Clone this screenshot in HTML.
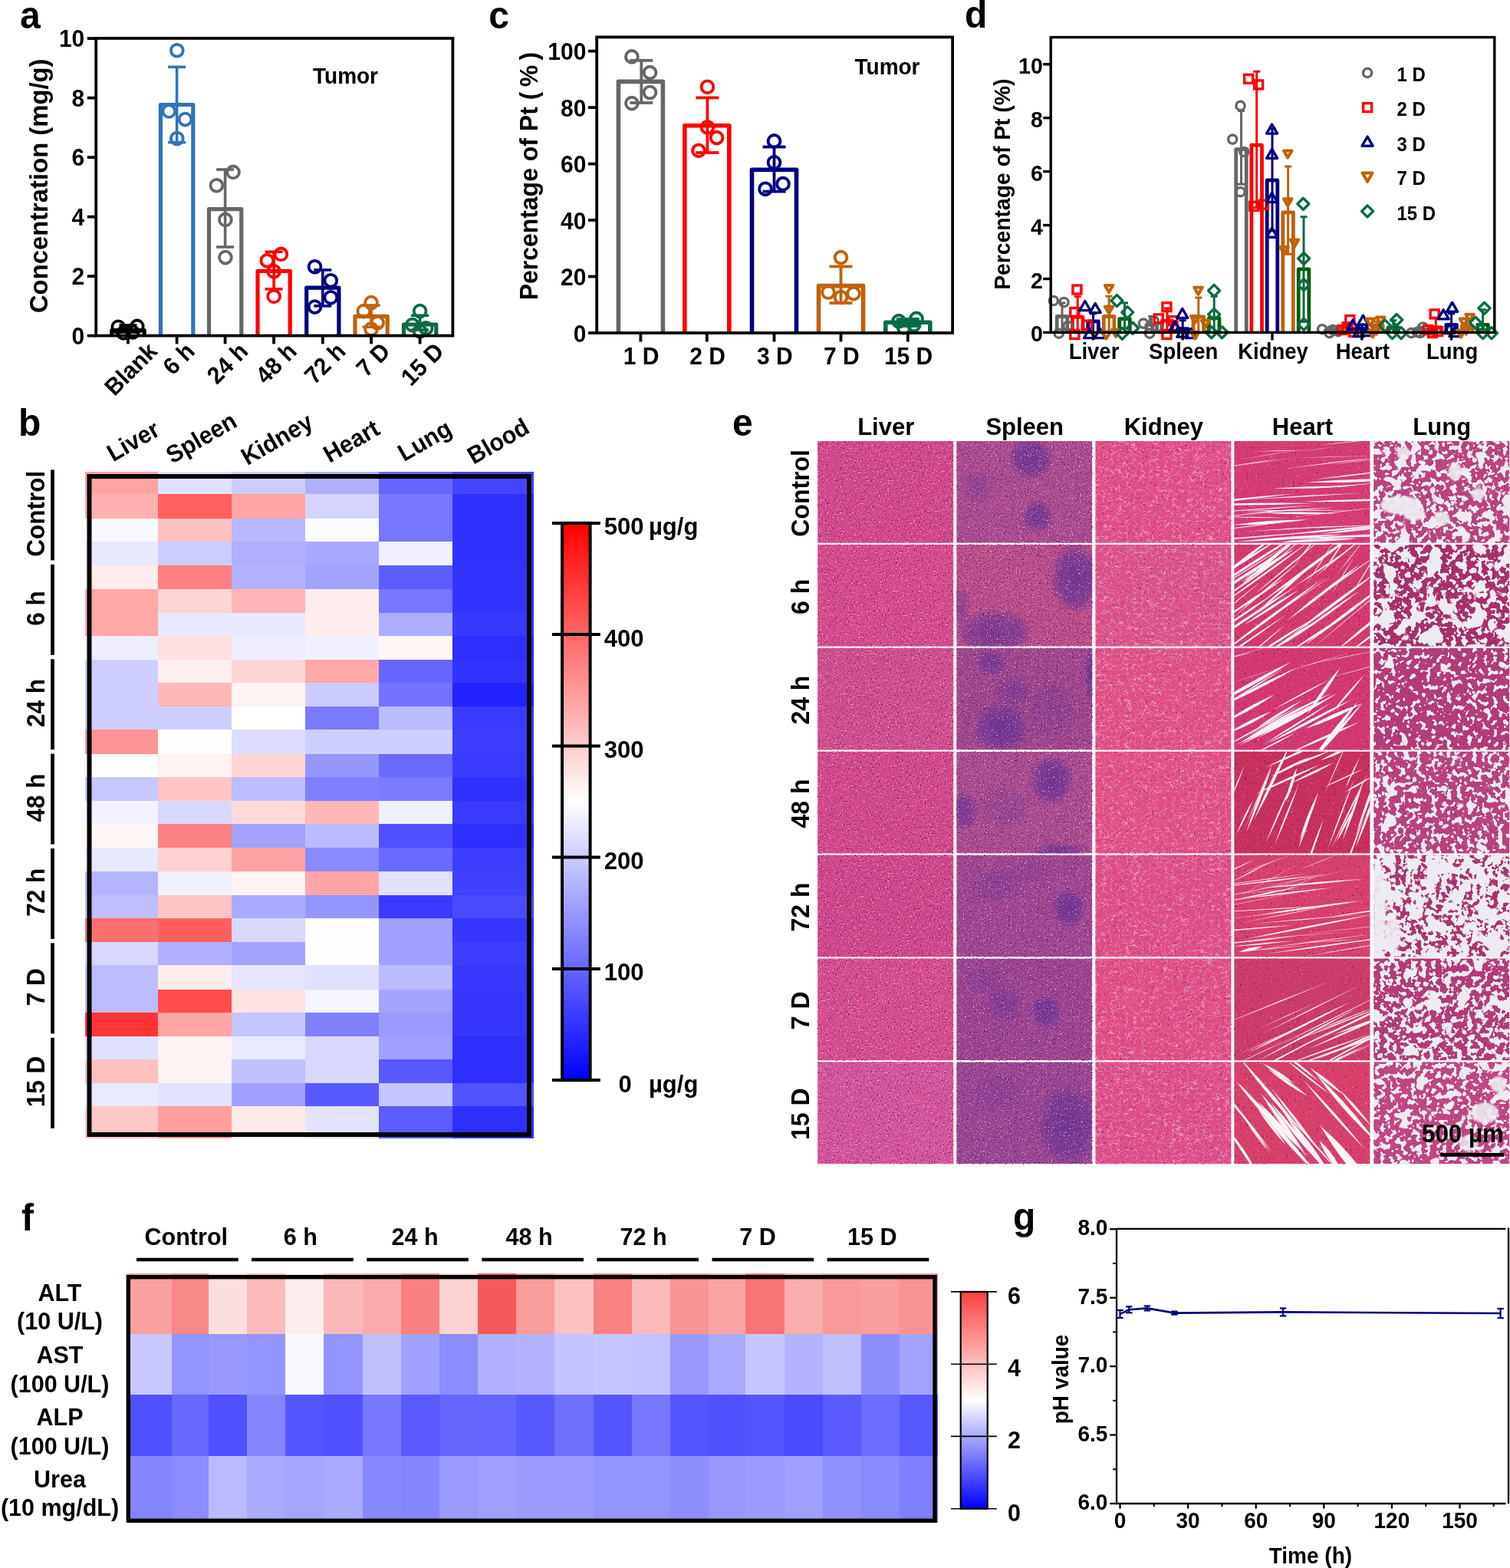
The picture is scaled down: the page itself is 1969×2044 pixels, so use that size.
<!DOCTYPE html>
<html><head><meta charset="utf-8"><title>Figure</title><style>html,body{margin:0;padding:0;background:#fff;}svg{display:block;}</style></head><body>
<svg width="1969" height="2044" viewBox="0 0 1969 2044" font-family="'Liberation Sans', Arial, Helvetica, sans-serif" font-weight="bold">
<rect width="1969" height="2044" fill="#fff"/>
<g>
<path d="M145.8,437.6 V430.6 H188.1 V437.6" fill="none" stroke="#000" stroke-width="5.2" stroke-linejoin="round"/>
<path d="M209.4,437.6 V136.5 H251.8 V437.6" fill="none" stroke="#3174B7" stroke-width="5.2" stroke-linejoin="round"/>
<path d="M272.5,437.6 V272.6 H314.8 V437.6" fill="none" stroke="#666666" stroke-width="5.2" stroke-linejoin="round"/>
<path d="M336,437.6 V353.4 H378.2 V437.6" fill="none" stroke="#FF0000" stroke-width="5.2" stroke-linejoin="round"/>
<path d="M399.7,437.6 V375.2 H441.9 V437.6" fill="none" stroke="#000080" stroke-width="5.2" stroke-linejoin="round"/>
<path d="M463,437.6 V412.4 H505.2 V437.6" fill="none" stroke="#C0620A" stroke-width="5.2" stroke-linejoin="round"/>
<path d="M526.5,437.6 V423 H568.8 V437.6" fill="none" stroke="#0A6B45" stroke-width="5.2" stroke-linejoin="round"/>
<line x1="166.9" y1="424" x2="166.9" y2="433" stroke="#000" stroke-width="3.6"/>
<line x1="155.4" y1="424" x2="178.4" y2="424" stroke="#000" stroke-width="3.6"/>
<line x1="155.4" y1="433" x2="178.4" y2="433" stroke="#000" stroke-width="3.6"/>
<line x1="230.6" y1="87.3" x2="230.6" y2="185.6" stroke="#3174B7" stroke-width="3.6"/>
<line x1="219.1" y1="87.3" x2="242.1" y2="87.3" stroke="#3174B7" stroke-width="3.6"/>
<line x1="219.1" y1="185.6" x2="242.1" y2="185.6" stroke="#3174B7" stroke-width="3.6"/>
<line x1="293.6" y1="221" x2="293.6" y2="322" stroke="#666666" stroke-width="3.6"/>
<line x1="282.1" y1="221" x2="305.1" y2="221" stroke="#666666" stroke-width="3.6"/>
<line x1="282.1" y1="322" x2="305.1" y2="322" stroke="#666666" stroke-width="3.6"/>
<line x1="357.1" y1="328.3" x2="357.1" y2="376.8" stroke="#FF0000" stroke-width="3.6"/>
<line x1="345.6" y1="328.3" x2="368.6" y2="328.3" stroke="#FF0000" stroke-width="3.6"/>
<line x1="345.6" y1="376.8" x2="368.6" y2="376.8" stroke="#FF0000" stroke-width="3.6"/>
<line x1="420.8" y1="351.9" x2="420.8" y2="398.8" stroke="#000080" stroke-width="3.6"/>
<line x1="409.3" y1="351.9" x2="432.3" y2="351.9" stroke="#000080" stroke-width="3.6"/>
<line x1="409.3" y1="398.8" x2="432.3" y2="398.8" stroke="#000080" stroke-width="3.6"/>
<line x1="484.1" y1="398" x2="484.1" y2="426.3" stroke="#C0620A" stroke-width="3.6"/>
<line x1="472.6" y1="398" x2="495.6" y2="398" stroke="#C0620A" stroke-width="3.6"/>
<line x1="472.6" y1="426.3" x2="495.6" y2="426.3" stroke="#C0620A" stroke-width="3.6"/>
<line x1="547.6" y1="411.2" x2="547.6" y2="430" stroke="#0A6B45" stroke-width="3.6"/>
<line x1="536.1" y1="411.2" x2="559.1" y2="411.2" stroke="#0A6B45" stroke-width="3.6"/>
<line x1="536.1" y1="430" x2="559.1" y2="430" stroke="#0A6B45" stroke-width="3.6"/>
<circle cx="154.2" cy="426.3" r="7.9" fill="none" stroke="#000" stroke-width="3.8"/>
<circle cx="178.8" cy="425.4" r="7.9" fill="none" stroke="#000" stroke-width="3.8"/>
<circle cx="161" cy="433.9" r="7.9" fill="none" stroke="#000" stroke-width="3.8"/>
<circle cx="172.9" cy="433" r="7.9" fill="none" stroke="#000" stroke-width="3.8"/>
<circle cx="230.8" cy="65.8" r="7.9" fill="none" stroke="#3174B7" stroke-width="3.8"/>
<circle cx="220.3" cy="144.9" r="7.9" fill="none" stroke="#3174B7" stroke-width="3.8"/>
<circle cx="241.5" cy="155.6" r="7.9" fill="none" stroke="#3174B7" stroke-width="3.8"/>
<circle cx="230.8" cy="180.5" r="7.9" fill="none" stroke="#3174B7" stroke-width="3.8"/>
<circle cx="304" cy="224.4" r="7.9" fill="none" stroke="#666666" stroke-width="3.8"/>
<circle cx="282.4" cy="241.7" r="7.9" fill="none" stroke="#666666" stroke-width="3.8"/>
<circle cx="293.9" cy="286.4" r="7.9" fill="none" stroke="#666666" stroke-width="3.8"/>
<circle cx="293.9" cy="335.6" r="7.9" fill="none" stroke="#666666" stroke-width="3.8"/>
<circle cx="348.3" cy="339.8" r="7.9" fill="none" stroke="#FF0000" stroke-width="3.8"/>
<circle cx="366.4" cy="331.4" r="7.9" fill="none" stroke="#FF0000" stroke-width="3.8"/>
<circle cx="357.1" cy="353.7" r="7.9" fill="none" stroke="#FF0000" stroke-width="3.8"/>
<circle cx="357.1" cy="386.4" r="7.9" fill="none" stroke="#FF0000" stroke-width="3.8"/>
<circle cx="410.5" cy="347.8" r="7.9" fill="none" stroke="#000080" stroke-width="3.8"/>
<circle cx="431.3" cy="365.7" r="7.9" fill="none" stroke="#000080" stroke-width="3.8"/>
<circle cx="431.3" cy="387.7" r="7.9" fill="none" stroke="#000080" stroke-width="3.8"/>
<circle cx="410.5" cy="400.1" r="7.9" fill="none" stroke="#000080" stroke-width="3.8"/>
<circle cx="484" cy="394.6" r="7.9" fill="none" stroke="#C0620A" stroke-width="3.8"/>
<circle cx="474.3" cy="405.6" r="7.9" fill="none" stroke="#C0620A" stroke-width="3.8"/>
<circle cx="492.2" cy="420.8" r="7.9" fill="none" stroke="#C0620A" stroke-width="3.8"/>
<circle cx="484" cy="429" r="7.9" fill="none" stroke="#C0620A" stroke-width="3.8"/>
<circle cx="547.6" cy="405.6" r="7.9" fill="none" stroke="#0A6B45" stroke-width="3.8"/>
<circle cx="537.7" cy="423.6" r="7.9" fill="none" stroke="#0A6B45" stroke-width="3.8"/>
<circle cx="555.6" cy="427.7" r="7.9" fill="none" stroke="#0A6B45" stroke-width="3.8"/>
<circle cx="547.6" cy="431.8" r="7.9" fill="none" stroke="#0A6B45" stroke-width="3.8"/>
<rect x="125.2" y="49.9" width="465.2" height="387.7" fill="none" stroke="#000" stroke-width="3.8"/>
<line x1="113.8" y1="437.6" x2="125.2" y2="437.6" stroke="#000" stroke-width="3.8"/>
<text x="110.3" y="448.9" font-size="31.20" text-anchor="end" textLength="16.68" lengthAdjust="spacingAndGlyphs">0</text>
<line x1="113.8" y1="360.1" x2="125.2" y2="360.1" stroke="#000" stroke-width="3.8"/>
<text x="110.3" y="371.4" font-size="31.20" text-anchor="end" textLength="16.68" lengthAdjust="spacingAndGlyphs">2</text>
<line x1="113.8" y1="282.6" x2="125.2" y2="282.6" stroke="#000" stroke-width="3.8"/>
<text x="110.3" y="293.9" font-size="31.20" text-anchor="end" textLength="16.68" lengthAdjust="spacingAndGlyphs">4</text>
<line x1="113.8" y1="205.1" x2="125.2" y2="205.1" stroke="#000" stroke-width="3.8"/>
<text x="110.3" y="216.4" font-size="31.20" text-anchor="end" textLength="16.68" lengthAdjust="spacingAndGlyphs">6</text>
<line x1="113.8" y1="127.6" x2="125.2" y2="127.6" stroke="#000" stroke-width="3.8"/>
<text x="110.3" y="138.9" font-size="31.20" text-anchor="end" textLength="16.68" lengthAdjust="spacingAndGlyphs">8</text>
<line x1="113.8" y1="50.1" x2="125.2" y2="50.1" stroke="#000" stroke-width="3.8"/>
<text x="110.3" y="61.4" font-size="31.20" text-anchor="end" textLength="33.37" lengthAdjust="spacingAndGlyphs">10</text>
<line x1="166.9" y1="437.6" x2="166.9" y2="448.4" stroke="#000" stroke-width="3.8"/>
<line x1="230.6" y1="437.6" x2="230.6" y2="448.4" stroke="#000" stroke-width="3.8"/>
<line x1="293.6" y1="437.6" x2="293.6" y2="448.4" stroke="#000" stroke-width="3.8"/>
<line x1="357.1" y1="437.6" x2="357.1" y2="448.4" stroke="#000" stroke-width="3.8"/>
<line x1="420.8" y1="437.6" x2="420.8" y2="448.4" stroke="#000" stroke-width="3.8"/>
<line x1="484.1" y1="437.6" x2="484.1" y2="448.4" stroke="#000" stroke-width="3.8"/>
<line x1="547.6" y1="437.6" x2="547.6" y2="448.4" stroke="#000" stroke-width="3.8"/>
<text x="206.9" y="459.8" font-size="31.20" text-anchor="end" transform="rotate(-45 206.9 459.8)" textLength="81.69" lengthAdjust="spacingAndGlyphs">Blank</text>
<text x="255.8" y="459.8" font-size="31.20" text-anchor="end" transform="rotate(-45 255.8 459.8)" textLength="43.34" lengthAdjust="spacingAndGlyphs">6 h</text>
<text x="325.3" y="459.8" font-size="31.20" text-anchor="end" transform="rotate(-45 325.3 459.8)" textLength="60.03" lengthAdjust="spacingAndGlyphs">24 h</text>
<text x="388.8" y="459.8" font-size="31.20" text-anchor="end" transform="rotate(-45 388.8 459.8)" textLength="60.03" lengthAdjust="spacingAndGlyphs">48 h</text>
<text x="452.5" y="459.8" font-size="31.20" text-anchor="end" transform="rotate(-45 452.5 459.8)" textLength="60.03" lengthAdjust="spacingAndGlyphs">72 h</text>
<text x="510.6" y="459.8" font-size="31.20" text-anchor="end" transform="rotate(-45 510.6 459.8)" textLength="46.68" lengthAdjust="spacingAndGlyphs">7 D</text>
<text x="580.6" y="459.8" font-size="31.20" text-anchor="end" transform="rotate(-45 580.6 459.8)" textLength="63.37" lengthAdjust="spacingAndGlyphs">15 D</text>
<text x="62" y="242.3" font-size="34.11" text-anchor="middle" transform="rotate(-90 62 242.3)" textLength="331.62" lengthAdjust="spacingAndGlyphs">Concentration (mg/g)</text>
<text x="408" y="108.5" font-size="29.12" textLength="85.03" lengthAdjust="spacingAndGlyphs">Tumor</text>
</g>
<path d="M806.4,434 V106.4 H864.4 V434" fill="none" stroke="#666666" stroke-width="5.6" stroke-linejoin="round"/>
<path d="M892.8,434 V163.8 H950.8 V434" fill="none" stroke="#FF0000" stroke-width="5.6" stroke-linejoin="round"/>
<path d="M980.5,434 V221.3 H1038.5 V434" fill="none" stroke="#000080" stroke-width="5.6" stroke-linejoin="round"/>
<path d="M1067.5,434 V372.6 H1125.5 V434" fill="none" stroke="#C0620A" stroke-width="5.6" stroke-linejoin="round"/>
<path d="M1154.8,434 V420.3 H1212.8 V434" fill="none" stroke="#0A6B45" stroke-width="5.6" stroke-linejoin="round"/>
<line x1="836.3" y1="78.8" x2="836.3" y2="134" stroke="#666666" stroke-width="3.8"/>
<line x1="821.3" y1="78.8" x2="851.3" y2="78.8" stroke="#666666" stroke-width="3.8"/>
<line x1="821.3" y1="134" x2="851.3" y2="134" stroke="#666666" stroke-width="3.8"/>
<line x1="922.4" y1="127.4" x2="922.4" y2="199" stroke="#FF0000" stroke-width="3.8"/>
<line x1="907.4" y1="127.4" x2="937.4" y2="127.4" stroke="#FF0000" stroke-width="3.8"/>
<line x1="907.4" y1="199" x2="937.4" y2="199" stroke="#FF0000" stroke-width="3.8"/>
<line x1="1009.5" y1="191.5" x2="1009.5" y2="249.6" stroke="#000080" stroke-width="3.8"/>
<line x1="994.5" y1="191.5" x2="1024.5" y2="191.5" stroke="#000080" stroke-width="3.8"/>
<line x1="994.5" y1="249.6" x2="1024.5" y2="249.6" stroke="#000080" stroke-width="3.8"/>
<line x1="1096.5" y1="347.4" x2="1096.5" y2="395" stroke="#C0620A" stroke-width="3.8"/>
<line x1="1081.5" y1="347.4" x2="1111.5" y2="347.4" stroke="#C0620A" stroke-width="3.8"/>
<line x1="1081.5" y1="395" x2="1111.5" y2="395" stroke="#C0620A" stroke-width="3.8"/>
<line x1="1183.8" y1="416" x2="1183.8" y2="425" stroke="#0A6B45" stroke-width="3.8"/>
<line x1="1168.8" y1="416" x2="1198.8" y2="416" stroke="#0A6B45" stroke-width="3.8"/>
<line x1="1168.8" y1="425" x2="1198.8" y2="425" stroke="#0A6B45" stroke-width="3.8"/>
<circle cx="823.9" cy="73.9" r="7.9" fill="none" stroke="#666666" stroke-width="3.9"/>
<circle cx="847.5" cy="94.6" r="7.9" fill="none" stroke="#666666" stroke-width="3.9"/>
<circle cx="847.5" cy="120.5" r="7.9" fill="none" stroke="#666666" stroke-width="3.9"/>
<circle cx="823.9" cy="134.6" r="7.9" fill="none" stroke="#666666" stroke-width="3.9"/>
<circle cx="922.4" cy="113.3" r="7.9" fill="none" stroke="#FF0000" stroke-width="3.9"/>
<circle cx="922.4" cy="165.8" r="7.9" fill="none" stroke="#FF0000" stroke-width="3.9"/>
<circle cx="934.6" cy="179.6" r="7.9" fill="none" stroke="#FF0000" stroke-width="3.9"/>
<circle cx="911" cy="196.4" r="7.9" fill="none" stroke="#FF0000" stroke-width="3.9"/>
<circle cx="1009.5" cy="183.9" r="7.9" fill="none" stroke="#000080" stroke-width="3.9"/>
<circle cx="1009.5" cy="211.8" r="7.9" fill="none" stroke="#000080" stroke-width="3.9"/>
<circle cx="1021" cy="239.7" r="7.9" fill="none" stroke="#000080" stroke-width="3.9"/>
<circle cx="998" cy="246.3" r="7.9" fill="none" stroke="#000080" stroke-width="3.9"/>
<circle cx="1096.5" cy="335.6" r="7.9" fill="none" stroke="#C0620A" stroke-width="3.9"/>
<circle cx="1080" cy="381" r="7.9" fill="none" stroke="#C0620A" stroke-width="3.9"/>
<circle cx="1113" cy="382.6" r="7.9" fill="none" stroke="#C0620A" stroke-width="3.9"/>
<circle cx="1096.5" cy="387.5" r="7.9" fill="none" stroke="#C0620A" stroke-width="3.9"/>
<circle cx="1172" cy="418.7" r="7.9" fill="none" stroke="#0A6B45" stroke-width="3.9"/>
<circle cx="1195" cy="415.4" r="7.9" fill="none" stroke="#0A6B45" stroke-width="3.9"/>
<circle cx="1178.6" cy="427" r="7.9" fill="none" stroke="#0A6B45" stroke-width="3.9"/>
<circle cx="1191.7" cy="423.6" r="7.9" fill="none" stroke="#0A6B45" stroke-width="3.9"/>
<rect x="778.2" y="48.4" width="463.9" height="385.6" fill="none" stroke="#000" stroke-width="3.8"/>
<line x1="767" y1="434" x2="778.2" y2="434" stroke="#000" stroke-width="3.8"/>
<text x="764.4" y="445.5" font-size="31.20" text-anchor="end" textLength="16.68" lengthAdjust="spacingAndGlyphs">0</text>
<line x1="767" y1="360.5" x2="778.2" y2="360.5" stroke="#000" stroke-width="3.8"/>
<text x="764.4" y="372" font-size="31.20" text-anchor="end" textLength="33.37" lengthAdjust="spacingAndGlyphs">20</text>
<line x1="767" y1="287" x2="778.2" y2="287" stroke="#000" stroke-width="3.8"/>
<text x="764.4" y="298.5" font-size="31.20" text-anchor="end" textLength="33.37" lengthAdjust="spacingAndGlyphs">40</text>
<line x1="767" y1="213.6" x2="778.2" y2="213.6" stroke="#000" stroke-width="3.8"/>
<text x="764.4" y="225.1" font-size="31.20" text-anchor="end" textLength="33.37" lengthAdjust="spacingAndGlyphs">60</text>
<line x1="767" y1="140.1" x2="778.2" y2="140.1" stroke="#000" stroke-width="3.8"/>
<text x="764.4" y="151.6" font-size="31.20" text-anchor="end" textLength="33.37" lengthAdjust="spacingAndGlyphs">80</text>
<line x1="767" y1="66.6" x2="778.2" y2="66.6" stroke="#000" stroke-width="3.8"/>
<text x="764.4" y="78.1" font-size="31.20" text-anchor="end" textLength="50.05" lengthAdjust="spacingAndGlyphs">100</text>
<line x1="835.4" y1="434" x2="835.4" y2="445.5" stroke="#000" stroke-width="3.8"/>
<text x="836.2" y="474.7" font-size="31.20" text-anchor="middle" textLength="46.68" lengthAdjust="spacingAndGlyphs">1 D</text>
<line x1="921.8" y1="434" x2="921.8" y2="445.5" stroke="#000" stroke-width="3.8"/>
<text x="922.6" y="474.7" font-size="31.20" text-anchor="middle" textLength="46.68" lengthAdjust="spacingAndGlyphs">2 D</text>
<line x1="1009.5" y1="434" x2="1009.5" y2="445.5" stroke="#000" stroke-width="3.8"/>
<text x="1010.3" y="474.7" font-size="31.20" text-anchor="middle" textLength="46.68" lengthAdjust="spacingAndGlyphs">3 D</text>
<line x1="1096.5" y1="434" x2="1096.5" y2="445.5" stroke="#000" stroke-width="3.8"/>
<text x="1097.3" y="474.7" font-size="31.20" text-anchor="middle" textLength="46.68" lengthAdjust="spacingAndGlyphs">7 D</text>
<line x1="1183.8" y1="434" x2="1183.8" y2="445.5" stroke="#000" stroke-width="3.8"/>
<text x="1184.6" y="474.7" font-size="31.20" text-anchor="middle" textLength="63.37" lengthAdjust="spacingAndGlyphs">15 D</text>
<text x="700.9" y="229.6" font-size="33.28" text-anchor="middle" transform="rotate(-90 700.9 229.6)" textLength="323.50" lengthAdjust="spacingAndGlyphs">Percentage of Pt ( % )</text>
<text x="1114.5" y="97" font-size="29.12" textLength="85.03" lengthAdjust="spacingAndGlyphs">Tumor</text>
<path d="M1378.2,433.4 V412.5 H1391.8 V433.4" fill="none" stroke="#666666" stroke-width="4.8" stroke-linejoin="round"/>
<line x1="1385" y1="394.9" x2="1385" y2="429.9" stroke="#666666" stroke-width="3.0"/>
<line x1="1380.5" y1="394.9" x2="1389.5" y2="394.9" stroke="#666666" stroke-width="3.0"/>
<line x1="1380.5" y1="429.9" x2="1389.5" y2="429.9" stroke="#666666" stroke-width="3.0"/>
<path d="M1398.4,433.4 V413.2 H1412 V433.4" fill="none" stroke="#FF0000" stroke-width="4.8" stroke-linejoin="round"/>
<line x1="1405.2" y1="386.6" x2="1405.2" y2="433.4" stroke="#FF0000" stroke-width="3.0"/>
<line x1="1400.7" y1="386.6" x2="1409.7" y2="386.6" stroke="#FF0000" stroke-width="3.0"/>
<line x1="1400.7" y1="433.4" x2="1409.7" y2="433.4" stroke="#FF0000" stroke-width="3.0"/>
<path d="M1418.7,433.4 V418.8 H1432.3 V433.4" fill="none" stroke="#000080" stroke-width="4.8" stroke-linejoin="round"/>
<line x1="1425.5" y1="408.9" x2="1425.5" y2="433.4" stroke="#000080" stroke-width="3.0"/>
<line x1="1421" y1="408.9" x2="1430" y2="408.9" stroke="#000080" stroke-width="3.0"/>
<line x1="1421" y1="433.4" x2="1430" y2="433.4" stroke="#000080" stroke-width="3.0"/>
<path d="M1439.2,433.4 V412.5 H1452.9 V433.4" fill="none" stroke="#C0620A" stroke-width="4.8" stroke-linejoin="round"/>
<line x1="1446.1" y1="386.2" x2="1446.1" y2="433.4" stroke="#C0620A" stroke-width="3.0"/>
<line x1="1441.6" y1="386.2" x2="1450.6" y2="386.2" stroke="#C0620A" stroke-width="3.0"/>
<line x1="1441.6" y1="433.4" x2="1450.6" y2="433.4" stroke="#C0620A" stroke-width="3.0"/>
<path d="M1459.7,433.4 V415.6 H1473.3 V433.4" fill="none" stroke="#005E08" stroke-width="4.8" stroke-linejoin="round"/>
<line x1="1466.5" y1="394.9" x2="1466.5" y2="433.4" stroke="#0A6B45" stroke-width="3.0"/>
<line x1="1462" y1="394.9" x2="1471" y2="394.9" stroke="#0A6B45" stroke-width="3.0"/>
<line x1="1462" y1="433.4" x2="1471" y2="433.4" stroke="#0A6B45" stroke-width="3.0"/>
<path d="M1494.9,433.4 V423.3 H1508.5 V433.4" fill="none" stroke="#666666" stroke-width="4.8" stroke-linejoin="round"/>
<line x1="1501.7" y1="412.4" x2="1501.7" y2="433.4" stroke="#666666" stroke-width="3.0"/>
<line x1="1497.2" y1="412.4" x2="1506.2" y2="412.4" stroke="#666666" stroke-width="3.0"/>
<line x1="1497.2" y1="433.4" x2="1506.2" y2="433.4" stroke="#666666" stroke-width="3.0"/>
<path d="M1515.1,433.4 V418.1 H1528.8 V433.4" fill="none" stroke="#FF0000" stroke-width="4.8" stroke-linejoin="round"/>
<line x1="1521.9" y1="401.9" x2="1521.9" y2="433.4" stroke="#FF0000" stroke-width="3.0"/>
<line x1="1517.4" y1="401.9" x2="1526.4" y2="401.9" stroke="#FF0000" stroke-width="3.0"/>
<line x1="1517.4" y1="433.4" x2="1526.4" y2="433.4" stroke="#FF0000" stroke-width="3.0"/>
<path d="M1535.4,433.4 V428.6 H1549 V433.4" fill="none" stroke="#000080" stroke-width="4.8" stroke-linejoin="round"/>
<line x1="1542.2" y1="417.7" x2="1542.2" y2="433.4" stroke="#000080" stroke-width="3.0"/>
<line x1="1537.7" y1="417.7" x2="1546.7" y2="417.7" stroke="#000080" stroke-width="3.0"/>
<line x1="1537.7" y1="433.4" x2="1546.7" y2="433.4" stroke="#000080" stroke-width="3.0"/>
<path d="M1556,433.4 V412.8 H1569.6 V433.4" fill="none" stroke="#C0620A" stroke-width="4.8" stroke-linejoin="round"/>
<line x1="1562.8" y1="388" x2="1562.8" y2="433.4" stroke="#C0620A" stroke-width="3.0"/>
<line x1="1558.3" y1="388" x2="1567.3" y2="388" stroke="#C0620A" stroke-width="3.0"/>
<line x1="1558.3" y1="433.4" x2="1567.3" y2="433.4" stroke="#C0620A" stroke-width="3.0"/>
<path d="M1576.4,433.4 V414.6 H1590 V433.4" fill="none" stroke="#005E08" stroke-width="4.8" stroke-linejoin="round"/>
<line x1="1583.2" y1="386.2" x2="1583.2" y2="433.4" stroke="#0A6B45" stroke-width="3.0"/>
<line x1="1578.7" y1="386.2" x2="1587.7" y2="386.2" stroke="#0A6B45" stroke-width="3.0"/>
<line x1="1578.7" y1="433.4" x2="1587.7" y2="433.4" stroke="#0A6B45" stroke-width="3.0"/>
<path d="M1611.7,433.4 V194.7 H1625.3 V433.4" fill="none" stroke="#666666" stroke-width="4.8" stroke-linejoin="round"/>
<line x1="1618.5" y1="144.6" x2="1618.5" y2="240.1" stroke="#666666" stroke-width="3.0"/>
<line x1="1614" y1="144.6" x2="1623" y2="144.6" stroke="#666666" stroke-width="3.0"/>
<line x1="1614" y1="240.1" x2="1623" y2="240.1" stroke="#666666" stroke-width="3.0"/>
<path d="M1631.9,433.4 V189.1 H1645.5 V433.4" fill="none" stroke="#FF0000" stroke-width="4.8" stroke-linejoin="round"/>
<line x1="1638.7" y1="93.2" x2="1638.7" y2="270.5" stroke="#FF0000" stroke-width="3.0"/>
<line x1="1634.2" y1="93.2" x2="1643.2" y2="93.2" stroke="#FF0000" stroke-width="3.0"/>
<line x1="1634.2" y1="270.5" x2="1643.2" y2="270.5" stroke="#FF0000" stroke-width="3.0"/>
<path d="M1652.2,433.4 V234.9 H1665.8 V433.4" fill="none" stroke="#000080" stroke-width="4.8" stroke-linejoin="round"/>
<line x1="1659" y1="167.7" x2="1659" y2="300.9" stroke="#000080" stroke-width="3.0"/>
<line x1="1654.5" y1="167.7" x2="1663.5" y2="167.7" stroke="#000080" stroke-width="3.0"/>
<line x1="1654.5" y1="300.9" x2="1663.5" y2="300.9" stroke="#000080" stroke-width="3.0"/>
<path d="M1672.8,433.4 V276.8 H1686.4 V433.4" fill="none" stroke="#C0620A" stroke-width="4.8" stroke-linejoin="round"/>
<line x1="1679.6" y1="217" x2="1679.6" y2="331.3" stroke="#C0620A" stroke-width="3.0"/>
<line x1="1675.1" y1="217" x2="1684.1" y2="217" stroke="#C0620A" stroke-width="3.0"/>
<line x1="1675.1" y1="331.3" x2="1684.1" y2="331.3" stroke="#C0620A" stroke-width="3.0"/>
<path d="M1693.2,433.4 V350.9 H1706.8 V433.4" fill="none" stroke="#005E08" stroke-width="4.8" stroke-linejoin="round"/>
<line x1="1700" y1="282.7" x2="1700" y2="419.4" stroke="#0A6B45" stroke-width="3.0"/>
<line x1="1695.5" y1="282.7" x2="1704.5" y2="282.7" stroke="#0A6B45" stroke-width="3.0"/>
<line x1="1695.5" y1="419.4" x2="1704.5" y2="419.4" stroke="#0A6B45" stroke-width="3.0"/>
<path d="M1728.5,433.4 V430.3 H1742.1 V433.4" fill="none" stroke="#666666" stroke-width="4.8" stroke-linejoin="round"/>
<line x1="1735.3" y1="426.4" x2="1735.3" y2="433.4" stroke="#666666" stroke-width="3.0"/>
<line x1="1730.8" y1="426.4" x2="1739.8" y2="426.4" stroke="#666666" stroke-width="3.0"/>
<line x1="1730.8" y1="433.4" x2="1739.8" y2="433.4" stroke="#666666" stroke-width="3.0"/>
<path d="M1748.7,433.4 V426.1 H1762.3 V433.4" fill="none" stroke="#FF0000" stroke-width="4.8" stroke-linejoin="round"/>
<line x1="1755.5" y1="421.2" x2="1755.5" y2="433.4" stroke="#FF0000" stroke-width="3.0"/>
<line x1="1751" y1="421.2" x2="1760" y2="421.2" stroke="#FF0000" stroke-width="3.0"/>
<line x1="1751" y1="433.4" x2="1760" y2="433.4" stroke="#FF0000" stroke-width="3.0"/>
<path d="M1769,433.4 V428.6 H1782.6 V433.4" fill="none" stroke="#000080" stroke-width="4.8" stroke-linejoin="round"/>
<line x1="1775.8" y1="422.9" x2="1775.8" y2="433.4" stroke="#000080" stroke-width="3.0"/>
<line x1="1771.3" y1="422.9" x2="1780.3" y2="422.9" stroke="#000080" stroke-width="3.0"/>
<line x1="1771.3" y1="433.4" x2="1780.3" y2="433.4" stroke="#000080" stroke-width="3.0"/>
<path d="M1789.5,433.4 V424 H1803.2 V433.4" fill="none" stroke="#C0620A" stroke-width="4.8" stroke-linejoin="round"/>
<line x1="1796.4" y1="419.4" x2="1796.4" y2="433.4" stroke="#C0620A" stroke-width="3.0"/>
<line x1="1791.9" y1="419.4" x2="1800.9" y2="419.4" stroke="#C0620A" stroke-width="3.0"/>
<line x1="1791.9" y1="433.4" x2="1800.9" y2="433.4" stroke="#C0620A" stroke-width="3.0"/>
<path d="M1810,433.4 V426.8 H1823.6 V433.4" fill="none" stroke="#005E08" stroke-width="4.8" stroke-linejoin="round"/>
<line x1="1816.8" y1="417.7" x2="1816.8" y2="433.4" stroke="#0A6B45" stroke-width="3.0"/>
<line x1="1812.3" y1="417.7" x2="1821.3" y2="417.7" stroke="#0A6B45" stroke-width="3.0"/>
<line x1="1812.3" y1="433.4" x2="1821.3" y2="433.4" stroke="#0A6B45" stroke-width="3.0"/>
<path d="M1845.2,433.4 V430.3 H1858.9 V433.4" fill="none" stroke="#666666" stroke-width="4.8" stroke-linejoin="round"/>
<line x1="1852.1" y1="426.4" x2="1852.1" y2="433.4" stroke="#666666" stroke-width="3.0"/>
<line x1="1847.6" y1="426.4" x2="1856.6" y2="426.4" stroke="#666666" stroke-width="3.0"/>
<line x1="1847.6" y1="433.4" x2="1856.6" y2="433.4" stroke="#666666" stroke-width="3.0"/>
<path d="M1865.5,433.4 V426.8 H1879.1 V433.4" fill="none" stroke="#FF0000" stroke-width="4.8" stroke-linejoin="round"/>
<line x1="1872.3" y1="414.2" x2="1872.3" y2="433.4" stroke="#FF0000" stroke-width="3.0"/>
<line x1="1867.8" y1="414.2" x2="1876.8" y2="414.2" stroke="#FF0000" stroke-width="3.0"/>
<line x1="1867.8" y1="433.4" x2="1876.8" y2="433.4" stroke="#FF0000" stroke-width="3.0"/>
<path d="M1885.8,433.4 V423.3 H1899.4 V433.4" fill="none" stroke="#000080" stroke-width="4.8" stroke-linejoin="round"/>
<line x1="1892.6" y1="408.9" x2="1892.6" y2="433.4" stroke="#000080" stroke-width="3.0"/>
<line x1="1888.1" y1="408.9" x2="1897.1" y2="408.9" stroke="#000080" stroke-width="3.0"/>
<line x1="1888.1" y1="433.4" x2="1897.1" y2="433.4" stroke="#000080" stroke-width="3.0"/>
<path d="M1906.3,433.4 V425.1 H1920 V433.4" fill="none" stroke="#C0620A" stroke-width="4.8" stroke-linejoin="round"/>
<line x1="1913.2" y1="415.9" x2="1913.2" y2="433.4" stroke="#C0620A" stroke-width="3.0"/>
<line x1="1908.7" y1="415.9" x2="1917.7" y2="415.9" stroke="#C0620A" stroke-width="3.0"/>
<line x1="1908.7" y1="433.4" x2="1917.7" y2="433.4" stroke="#C0620A" stroke-width="3.0"/>
<path d="M1926.8,433.4 V423.3 H1940.4 V433.4" fill="none" stroke="#005E08" stroke-width="4.8" stroke-linejoin="round"/>
<line x1="1933.6" y1="403.7" x2="1933.6" y2="433.4" stroke="#0A6B45" stroke-width="3.0"/>
<line x1="1929.1" y1="403.7" x2="1938.1" y2="403.7" stroke="#0A6B45" stroke-width="3.0"/>
<line x1="1929.1" y1="433.4" x2="1938.1" y2="433.4" stroke="#0A6B45" stroke-width="3.0"/>
<circle cx="1373.8" cy="392" r="5.6" fill="none" stroke="#666666" stroke-width="3.4"/>
<circle cx="1387.5" cy="394" r="5.6" fill="none" stroke="#666666" stroke-width="3.4"/>
<circle cx="1392.4" cy="425" r="5.6" fill="none" stroke="#666666" stroke-width="3.4"/>
<circle cx="1380.7" cy="434.7" r="5.6" fill="none" stroke="#666666" stroke-width="3.4"/>
<rect x="1398.9" y="372" width="11" height="11" fill="none" stroke="#FF0000" stroke-width="3.4"/>
<rect x="1395.8" y="401.5" width="11" height="11" fill="none" stroke="#FF0000" stroke-width="3.4"/>
<rect x="1412.4" y="418.2" width="11" height="11" fill="none" stroke="#FF0000" stroke-width="3.4"/>
<rect x="1395.8" y="430.5" width="11" height="11" fill="none" stroke="#FF0000" stroke-width="3.4"/>
<polygon points="1414.8,392.5 1407.8,404.6 1421.8,404.6" fill="none" stroke="#000080" stroke-width="3.4" stroke-linejoin="round"/>
<polygon points="1428.2,395.5 1421.2,407.6 1435.2,407.6" fill="none" stroke="#000080" stroke-width="3.4" stroke-linejoin="round"/>
<polygon points="1420.6,428.5 1413.6,440.6 1427.6,440.6" fill="none" stroke="#000080" stroke-width="3.4" stroke-linejoin="round"/>
<polygon points="1434.4,428.5 1427.4,440.6 1441.4,440.6" fill="none" stroke="#000080" stroke-width="3.4" stroke-linejoin="round"/>
<polygon points="1446.1,381.1 1440.8,372 1451.3,372" fill="none" stroke="#C0620A" stroke-width="4.0" stroke-linejoin="round"/>
<polygon points="1446.1,408.6 1440.8,399.5 1451.3,399.5" fill="none" stroke="#C0620A" stroke-width="4.0" stroke-linejoin="round"/>
<polygon points="1442.6,441.6 1437.3,432.5 1447.8,432.5" fill="none" stroke="#C0620A" stroke-width="4.0" stroke-linejoin="round"/>
<polygon points="1455,438.9 1449.8,429.8 1460.2,429.8" fill="none" stroke="#C0620A" stroke-width="4.0" stroke-linejoin="round"/>
<polygon points="1456.4,384.5 1463.9,392 1456.4,399.5 1448.9,392" fill="none" stroke="#0A6B45" stroke-width="3.4" stroke-linejoin="round"/>
<polygon points="1470.2,399.6 1477.7,407.1 1470.2,414.6 1462.7,407.1" fill="none" stroke="#0A6B45" stroke-width="3.4" stroke-linejoin="round"/>
<polygon points="1477.1,420.3 1484.6,427.8 1477.1,435.3 1469.6,427.8" fill="none" stroke="#0A6B45" stroke-width="3.4" stroke-linejoin="round"/>
<polygon points="1463.3,427.2 1470.8,434.7 1463.3,442.2 1455.8,434.7" fill="none" stroke="#0A6B45" stroke-width="3.4" stroke-linejoin="round"/>
<circle cx="1490.9" cy="421.6" r="5.6" fill="none" stroke="#666666" stroke-width="3.4"/>
<circle cx="1504.6" cy="418.2" r="5.6" fill="none" stroke="#666666" stroke-width="3.4"/>
<circle cx="1508.8" cy="426.4" r="5.6" fill="none" stroke="#666666" stroke-width="3.4"/>
<circle cx="1499.1" cy="434.7" r="5.6" fill="none" stroke="#666666" stroke-width="3.4"/>
<rect x="1515.9" y="394.7" width="11" height="11" fill="none" stroke="#FF0000" stroke-width="3.4"/>
<rect x="1505.3" y="409.9" width="11" height="11" fill="none" stroke="#FF0000" stroke-width="3.4"/>
<rect x="1523.9" y="412.7" width="11" height="11" fill="none" stroke="#FF0000" stroke-width="3.4"/>
<rect x="1515.9" y="430.5" width="11" height="11" fill="none" stroke="#FF0000" stroke-width="3.4"/>
<polygon points="1541.8,402.4 1534.8,414.5 1548.8,414.5" fill="none" stroke="#000080" stroke-width="3.4" stroke-linejoin="round"/>
<polygon points="1532.2,418.9 1525.2,431 1539.2,431" fill="none" stroke="#000080" stroke-width="3.4" stroke-linejoin="round"/>
<polygon points="1541.8,427.2 1534.8,439.3 1548.8,439.3" fill="none" stroke="#000080" stroke-width="3.4" stroke-linejoin="round"/>
<polygon points="1552.8,428.5 1545.8,440.6 1559.8,440.6" fill="none" stroke="#000080" stroke-width="3.4" stroke-linejoin="round"/>
<polygon points="1562.5,383.8 1557.2,374.7 1567.8,374.7" fill="none" stroke="#C0620A" stroke-width="4.0" stroke-linejoin="round"/>
<polygon points="1558.3,421 1553,411.9 1563.5,411.9" fill="none" stroke="#C0620A" stroke-width="4.0" stroke-linejoin="round"/>
<polygon points="1572.1,426.5 1566.8,417.4 1577.3,417.4" fill="none" stroke="#C0620A" stroke-width="4.0" stroke-linejoin="round"/>
<polygon points="1558.3,441.6 1553,432.5 1563.5,432.5" fill="none" stroke="#C0620A" stroke-width="4.0" stroke-linejoin="round"/>
<polygon points="1583.1,371.4 1590.6,378.9 1583.1,386.4 1575.6,378.9" fill="none" stroke="#0A6B45" stroke-width="3.4" stroke-linejoin="round"/>
<polygon points="1583.1,402.4 1590.6,409.9 1583.1,417.4 1575.6,409.9" fill="none" stroke="#0A6B45" stroke-width="3.4" stroke-linejoin="round"/>
<polygon points="1579.7,425.8 1587.2,433.3 1579.7,440.8 1572.2,433.3" fill="none" stroke="#0A6B45" stroke-width="3.4" stroke-linejoin="round"/>
<polygon points="1593.5,425.8 1601,433.3 1593.5,440.8 1586,433.3" fill="none" stroke="#0A6B45" stroke-width="3.4" stroke-linejoin="round"/>
<circle cx="1607.2" cy="181.6" r="5.6" fill="none" stroke="#666666" stroke-width="3.4"/>
<circle cx="1617.5" cy="137.9" r="5.6" fill="none" stroke="#666666" stroke-width="3.4"/>
<circle cx="1622.4" cy="198" r="5.6" fill="none" stroke="#666666" stroke-width="3.4"/>
<circle cx="1617.5" cy="250.2" r="5.6" fill="none" stroke="#666666" stroke-width="3.4"/>
<rect x="1622.6" y="97.3" width="11" height="11" fill="none" stroke="#FF0000" stroke-width="3.4"/>
<rect x="1635.6" y="104.9" width="11" height="11" fill="none" stroke="#FF0000" stroke-width="3.4"/>
<rect x="1629.9" y="263.3" width="11" height="11" fill="none" stroke="#FF0000" stroke-width="3.4"/>
<rect x="1642.5" y="261.1" width="11" height="11" fill="none" stroke="#FF0000" stroke-width="3.4"/>
<polygon points="1658.6,162 1651.6,174.1 1665.6,174.1" fill="none" stroke="#000080" stroke-width="3.4" stroke-linejoin="round"/>
<polygon points="1658.6,194.3 1651.6,206.4 1665.6,206.4" fill="none" stroke="#000080" stroke-width="3.4" stroke-linejoin="round"/>
<polygon points="1658.6,251.4 1651.6,263.5 1665.6,263.5" fill="none" stroke="#000080" stroke-width="3.4" stroke-linejoin="round"/>
<polygon points="1658.6,297.1 1651.6,309.2 1665.6,309.2" fill="none" stroke="#000080" stroke-width="3.4" stroke-linejoin="round"/>
<polygon points="1679.2,205.5 1674,196.4 1684.5,196.4" fill="none" stroke="#C0620A" stroke-width="4.0" stroke-linejoin="round"/>
<polygon points="1679.2,268.4 1674,259.3 1684.5,259.3" fill="none" stroke="#C0620A" stroke-width="4.0" stroke-linejoin="round"/>
<polygon points="1674.6,331.2 1669.3,322.1 1679.8,322.1" fill="none" stroke="#C0620A" stroke-width="4.0" stroke-linejoin="round"/>
<polygon points="1687.9,321.7 1682.7,312.6 1693.2,312.6" fill="none" stroke="#C0620A" stroke-width="4.0" stroke-linejoin="round"/>
<polygon points="1699.4,258.3 1706.9,265.8 1699.4,273.3 1691.9,265.8" fill="none" stroke="#0A6B45" stroke-width="3.4" stroke-linejoin="round"/>
<polygon points="1700.1,329.5 1707.6,337 1700.1,344.5 1692.6,337" fill="none" stroke="#0A6B45" stroke-width="3.4" stroke-linejoin="round"/>
<polygon points="1700.1,363.8 1707.6,371.3 1700.1,378.8 1692.6,371.3" fill="none" stroke="#0A6B45" stroke-width="3.4" stroke-linejoin="round"/>
<polygon points="1700.1,415.2 1707.6,422.7 1700.1,430.2 1692.6,422.7" fill="none" stroke="#0A6B45" stroke-width="3.4" stroke-linejoin="round"/>
<circle cx="1724.1" cy="429.2" r="5.6" fill="none" stroke="#666666" stroke-width="3.4"/>
<circle cx="1733.6" cy="434.1" r="5.6" fill="none" stroke="#666666" stroke-width="3.4"/>
<circle cx="1745" cy="432.2" r="5.6" fill="none" stroke="#666666" stroke-width="3.4"/>
<circle cx="1738" cy="430" r="5.6" fill="none" stroke="#666666" stroke-width="3.4"/>
<rect x="1751" y="421" width="11" height="11" fill="none" stroke="#FF0000" stroke-width="3.4"/>
<rect x="1754.8" y="411.5" width="11" height="11" fill="none" stroke="#FF0000" stroke-width="3.4"/>
<rect x="1744.5" y="424.5" width="11" height="11" fill="none" stroke="#FF0000" stroke-width="3.4"/>
<rect x="1759.5" y="427.5" width="11" height="11" fill="none" stroke="#FF0000" stroke-width="3.4"/>
<polygon points="1764,417.1 1757,429.2 1771,429.2" fill="none" stroke="#000080" stroke-width="3.4" stroke-linejoin="round"/>
<polygon points="1777.4,411.4 1770.4,423.5 1784.4,423.5" fill="none" stroke="#000080" stroke-width="3.4" stroke-linejoin="round"/>
<polygon points="1782,425.5 1775,437.6 1789,437.6" fill="none" stroke="#000080" stroke-width="3.4" stroke-linejoin="round"/>
<polygon points="1772,426.5 1765,438.6 1779,438.6" fill="none" stroke="#000080" stroke-width="3.4" stroke-linejoin="round"/>
<polygon points="1786.9,424.5 1781.7,415.4 1792.2,415.4" fill="none" stroke="#C0620A" stroke-width="4.0" stroke-linejoin="round"/>
<polygon points="1800.3,422.6 1795,413.5 1805.5,413.5" fill="none" stroke="#C0620A" stroke-width="4.0" stroke-linejoin="round"/>
<polygon points="1795,435.6 1789.8,426.5 1800.2,426.5" fill="none" stroke="#C0620A" stroke-width="4.0" stroke-linejoin="round"/>
<polygon points="1790,439.6 1784.8,430.5 1795.2,430.5" fill="none" stroke="#C0620A" stroke-width="4.0" stroke-linejoin="round"/>
<polygon points="1806,417.1 1813.5,424.6 1806,432.1 1798.5,424.6" fill="none" stroke="#0A6B45" stroke-width="3.4" stroke-linejoin="round"/>
<polygon points="1821.2,409.5 1828.7,417 1821.2,424.5 1813.7,417" fill="none" stroke="#0A6B45" stroke-width="3.4" stroke-linejoin="round"/>
<polygon points="1815.5,426.6 1823,434.1 1815.5,441.6 1808,434.1" fill="none" stroke="#0A6B45" stroke-width="3.4" stroke-linejoin="round"/>
<polygon points="1827,426.6 1834.5,434.1 1827,441.6 1819.5,434.1" fill="none" stroke="#0A6B45" stroke-width="3.4" stroke-linejoin="round"/>
<circle cx="1840.2" cy="434.1" r="5.6" fill="none" stroke="#666666" stroke-width="3.4"/>
<circle cx="1855.5" cy="426.5" r="5.6" fill="none" stroke="#666666" stroke-width="3.4"/>
<circle cx="1848" cy="433" r="5.6" fill="none" stroke="#666666" stroke-width="3.4"/>
<circle cx="1852" cy="434" r="5.6" fill="none" stroke="#666666" stroke-width="3.4"/>
<rect x="1865.2" y="403.9" width="11" height="11" fill="none" stroke="#FF0000" stroke-width="3.4"/>
<rect x="1856.5" y="424.5" width="11" height="11" fill="none" stroke="#FF0000" stroke-width="3.4"/>
<rect x="1869.5" y="426.5" width="11" height="11" fill="none" stroke="#FF0000" stroke-width="3.4"/>
<rect x="1862.5" y="428.5" width="11" height="11" fill="none" stroke="#FF0000" stroke-width="3.4"/>
<polygon points="1882.1,403.8 1875.1,415.9 1889.1,415.9" fill="none" stroke="#000080" stroke-width="3.4" stroke-linejoin="round"/>
<polygon points="1893.6,394.2 1886.6,406.3 1900.6,406.3" fill="none" stroke="#000080" stroke-width="3.4" stroke-linejoin="round"/>
<polygon points="1890,422.5 1883,434.6 1897,434.6" fill="none" stroke="#000080" stroke-width="3.4" stroke-linejoin="round"/>
<polygon points="1897,426.5 1890,438.6 1904,438.6" fill="none" stroke="#000080" stroke-width="3.4" stroke-linejoin="round"/>
<polygon points="1908.8,424.5 1903.5,415.4 1914,415.4" fill="none" stroke="#C0620A" stroke-width="4.0" stroke-linejoin="round"/>
<polygon points="1916.4,418.8 1911.2,409.7 1921.7,409.7" fill="none" stroke="#C0620A" stroke-width="4.0" stroke-linejoin="round"/>
<polygon points="1912,435.6 1906.8,426.5 1917.2,426.5" fill="none" stroke="#C0620A" stroke-width="4.0" stroke-linejoin="round"/>
<polygon points="1905,439.6 1899.8,430.5 1910.2,430.5" fill="none" stroke="#C0620A" stroke-width="4.0" stroke-linejoin="round"/>
<polygon points="1924,413.3 1931.5,420.8 1924,428.3 1916.5,420.8" fill="none" stroke="#0A6B45" stroke-width="3.4" stroke-linejoin="round"/>
<polygon points="1935.5,394.2 1943,401.7 1935.5,409.2 1928,401.7" fill="none" stroke="#0A6B45" stroke-width="3.4" stroke-linejoin="round"/>
<polygon points="1933.6,426.6 1941.1,434.1 1933.6,441.6 1926.1,434.1" fill="none" stroke="#0A6B45" stroke-width="3.4" stroke-linejoin="round"/>
<polygon points="1945,426.6 1952.5,434.1 1945,441.6 1937.5,434.1" fill="none" stroke="#0A6B45" stroke-width="3.4" stroke-linejoin="round"/>
<rect x="1370.2" y="48.6" width="578.6" height="384.8" fill="none" stroke="#000" stroke-width="3.4"/>
<line x1="1360.2" y1="433.4" x2="1370.2" y2="433.4" stroke="#000" stroke-width="3.4"/>
<text x="1359.8" y="445.4" font-size="29.64" text-anchor="end" textLength="15.85" lengthAdjust="spacingAndGlyphs">0</text>
<line x1="1360.2" y1="363.5" x2="1370.2" y2="363.5" stroke="#000" stroke-width="3.4"/>
<text x="1359.8" y="375.5" font-size="29.64" text-anchor="end" textLength="15.85" lengthAdjust="spacingAndGlyphs">2</text>
<line x1="1360.2" y1="293.6" x2="1370.2" y2="293.6" stroke="#000" stroke-width="3.4"/>
<text x="1359.8" y="305.6" font-size="29.64" text-anchor="end" textLength="15.85" lengthAdjust="spacingAndGlyphs">4</text>
<line x1="1360.2" y1="223.6" x2="1370.2" y2="223.6" stroke="#000" stroke-width="3.4"/>
<text x="1359.8" y="235.6" font-size="29.64" text-anchor="end" textLength="15.85" lengthAdjust="spacingAndGlyphs">6</text>
<line x1="1360.2" y1="153.7" x2="1370.2" y2="153.7" stroke="#000" stroke-width="3.4"/>
<text x="1359.8" y="165.7" font-size="29.64" text-anchor="end" textLength="15.85" lengthAdjust="spacingAndGlyphs">8</text>
<line x1="1360.2" y1="83.8" x2="1370.2" y2="83.8" stroke="#000" stroke-width="3.4"/>
<text x="1359.8" y="95.8" font-size="29.64" text-anchor="end" textLength="31.70" lengthAdjust="spacingAndGlyphs">10</text>
<line x1="1425.5" y1="433.4" x2="1425.5" y2="443.5" stroke="#000" stroke-width="3.4"/>
<line x1="1542.2" y1="433.4" x2="1542.2" y2="443.5" stroke="#000" stroke-width="3.4"/>
<line x1="1659" y1="433.4" x2="1659" y2="443.5" stroke="#000" stroke-width="3.4"/>
<line x1="1775.8" y1="433.4" x2="1775.8" y2="443.5" stroke="#000" stroke-width="3.4"/>
<line x1="1892.6" y1="433.4" x2="1892.6" y2="443.5" stroke="#000" stroke-width="3.4"/>
<text x="1426.5" y="467.6" font-size="28.60" text-anchor="middle" textLength="65.73" lengthAdjust="spacingAndGlyphs">Liver</text>
<text x="1543.2" y="467.6" font-size="28.60" text-anchor="middle" textLength="90.17" lengthAdjust="spacingAndGlyphs">Spleen</text>
<text x="1660" y="467.6" font-size="28.60" text-anchor="middle" textLength="91.69" lengthAdjust="spacingAndGlyphs">Kidney</text>
<text x="1776.8" y="467.6" font-size="28.60" text-anchor="middle" textLength="70.31" lengthAdjust="spacingAndGlyphs">Heart</text>
<text x="1893.6" y="467.6" font-size="28.60" text-anchor="middle" textLength="67.19" lengthAdjust="spacingAndGlyphs">Lung</text>
<text x="1316.9" y="240.2" font-size="29.43" text-anchor="middle" transform="rotate(-90 1316.9 240.2)" textLength="275.19" lengthAdjust="spacingAndGlyphs">Percentage of Pt (%)</text>
<circle cx="1783.1" cy="94.9" r="5.6" fill="none" stroke="#666666" stroke-width="3.4"/>
<text x="1821.5" y="106.1" font-size="24.96" textLength="37.35" lengthAdjust="spacingAndGlyphs">1 D</text>
<rect x="1777.6" y="134.6" width="11" height="11" fill="none" stroke="#FF0000" stroke-width="3.4"/>
<text x="1821.5" y="151.3" font-size="24.96" textLength="37.35" lengthAdjust="spacingAndGlyphs">2 D</text>
<polygon points="1783.1,178.1 1776.1,190.2 1790.1,190.2" fill="none" stroke="#000080" stroke-width="3.4" stroke-linejoin="round"/>
<text x="1821.5" y="196.8" font-size="24.96" textLength="37.35" lengthAdjust="spacingAndGlyphs">3 D</text>
<polygon points="1783.1,236.8 1776.6,225.5 1789.6,225.5" fill="none" stroke="#C0620A" stroke-width="4.0" stroke-linejoin="round"/>
<text x="1821.5" y="241" font-size="24.96" textLength="37.35" lengthAdjust="spacingAndGlyphs">7 D</text>
<polygon points="1783.1,267.9 1790.6,275.4 1783.1,282.9 1775.6,275.4" fill="none" stroke="#0A6B45" stroke-width="3.4" stroke-linejoin="round"/>
<text x="1821.5" y="286.6" font-size="24.96" textLength="50.70" lengthAdjust="spacingAndGlyphs">15 D</text>
<g shape-rendering="crispEdges">
<rect x="110.5" y="614.5" width="96.1" height="30.4" fill="#FFA3A3"/>
<rect x="206" y="614.5" width="96.6" height="30.4" fill="#E0E0FF"/>
<rect x="302" y="614.5" width="96.1" height="30.4" fill="#CCCCFF"/>
<rect x="397.5" y="614.5" width="96.6" height="30.4" fill="#B0B0FF"/>
<rect x="493.5" y="614.5" width="97.1" height="30.4" fill="#6666FF"/>
<rect x="590" y="614.5" width="106.1" height="30.4" fill="#4444FF"/>
<rect x="110.5" y="644.3" width="96.1" height="31.8" fill="#FFB0B0"/>
<rect x="206" y="644.3" width="96.6" height="31.8" fill="#FF6060"/>
<rect x="302" y="644.3" width="96.1" height="31.8" fill="#FFA5A5"/>
<rect x="397.5" y="644.3" width="96.6" height="31.8" fill="#D5D5FF"/>
<rect x="493.5" y="644.3" width="97.1" height="31.8" fill="#7777FF"/>
<rect x="590" y="644.3" width="106.1" height="31.8" fill="#3030FF"/>
<rect x="110.5" y="675.5" width="96.1" height="30.8" fill="#F8F8FF"/>
<rect x="206" y="675.5" width="96.6" height="30.8" fill="#FFC0C0"/>
<rect x="302" y="675.5" width="96.1" height="30.8" fill="#B8B8FF"/>
<rect x="397.5" y="675.5" width="96.6" height="30.8" fill="#FBFBFF"/>
<rect x="493.5" y="675.5" width="97.1" height="30.8" fill="#7777FF"/>
<rect x="590" y="675.5" width="106.1" height="30.8" fill="#3030FF"/>
<rect x="110.5" y="705.7" width="96.1" height="32.2" fill="#E8E8FF"/>
<rect x="206" y="705.7" width="96.6" height="32.2" fill="#CCCCFF"/>
<rect x="302" y="705.7" width="96.1" height="32.2" fill="#B0B0FF"/>
<rect x="397.5" y="705.7" width="96.6" height="32.2" fill="#A8A8FF"/>
<rect x="493.5" y="705.7" width="97.1" height="32.2" fill="#F0F0FF"/>
<rect x="590" y="705.7" width="106.1" height="32.2" fill="#3030FF"/>
<rect x="110.5" y="737.3" width="96.1" height="30.8" fill="#FFECEC"/>
<rect x="206" y="737.3" width="96.6" height="30.8" fill="#FF8080"/>
<rect x="302" y="737.3" width="96.1" height="30.8" fill="#B3B3FF"/>
<rect x="397.5" y="737.3" width="96.6" height="30.8" fill="#A3A3FF"/>
<rect x="493.5" y="737.3" width="97.1" height="30.8" fill="#5C5CFF"/>
<rect x="590" y="737.3" width="106.1" height="30.8" fill="#3333FF"/>
<rect x="110.5" y="767.5" width="96.1" height="31.8" fill="#FFA8A8"/>
<rect x="206" y="767.5" width="96.6" height="31.8" fill="#FFD5D5"/>
<rect x="302" y="767.5" width="96.1" height="31.8" fill="#FFB5B5"/>
<rect x="397.5" y="767.5" width="96.6" height="31.8" fill="#FFECEC"/>
<rect x="493.5" y="767.5" width="97.1" height="31.8" fill="#7777FF"/>
<rect x="590" y="767.5" width="106.1" height="31.8" fill="#3333FF"/>
<rect x="110.5" y="798.7" width="96.1" height="30.8" fill="#FFA8A8"/>
<rect x="206" y="798.7" width="96.6" height="30.8" fill="#E8E8FF"/>
<rect x="302" y="798.7" width="96.1" height="30.8" fill="#E8E8FF"/>
<rect x="397.5" y="798.7" width="96.6" height="30.8" fill="#FFECEC"/>
<rect x="493.5" y="798.7" width="97.1" height="30.8" fill="#ADADFF"/>
<rect x="590" y="798.7" width="106.1" height="30.8" fill="#3838FF"/>
<rect x="110.5" y="828.9" width="96.1" height="31.8" fill="#EEEEFF"/>
<rect x="206" y="828.9" width="96.6" height="31.8" fill="#FFE0E0"/>
<rect x="302" y="828.9" width="96.1" height="31.8" fill="#EEEEFF"/>
<rect x="397.5" y="828.9" width="96.6" height="31.8" fill="#F0F0FF"/>
<rect x="493.5" y="828.9" width="97.1" height="31.8" fill="#FFF5F5"/>
<rect x="590" y="828.9" width="106.1" height="31.8" fill="#2E2EFF"/>
<rect x="110.5" y="860.1" width="96.1" height="30.7" fill="#CFCFFF"/>
<rect x="206" y="860.1" width="96.6" height="30.7" fill="#FFEEEE"/>
<rect x="302" y="860.1" width="96.1" height="30.7" fill="#FFD5D5"/>
<rect x="397.5" y="860.1" width="96.6" height="30.7" fill="#FFA8A8"/>
<rect x="493.5" y="860.1" width="97.1" height="30.7" fill="#6666FF"/>
<rect x="590" y="860.1" width="106.1" height="30.7" fill="#3333FF"/>
<rect x="110.5" y="890.2" width="96.1" height="31.4" fill="#CFCFFF"/>
<rect x="206" y="890.2" width="96.6" height="31.4" fill="#FFB8B8"/>
<rect x="302" y="890.2" width="96.1" height="31.4" fill="#FFF2F2"/>
<rect x="397.5" y="890.2" width="96.6" height="31.4" fill="#CBCBFF"/>
<rect x="493.5" y="890.2" width="97.1" height="31.4" fill="#7373FF"/>
<rect x="590" y="890.2" width="106.1" height="31.4" fill="#2222FF"/>
<rect x="110.5" y="921" width="96.1" height="30.9" fill="#CFCFFF"/>
<rect x="206" y="921" width="96.6" height="30.9" fill="#CFCFFF"/>
<rect x="302" y="921" width="96.1" height="30.9" fill="#FFFFFF"/>
<rect x="397.5" y="921" width="96.6" height="30.9" fill="#7A7AFF"/>
<rect x="493.5" y="921" width="97.1" height="30.9" fill="#BBBBFF"/>
<rect x="590" y="921" width="106.1" height="30.9" fill="#3A3AFF"/>
<rect x="110.5" y="951.3" width="96.1" height="31.8" fill="#FF9494"/>
<rect x="206" y="951.3" width="96.6" height="31.8" fill="#FEFEFF"/>
<rect x="302" y="951.3" width="96.1" height="31.8" fill="#DDDDFF"/>
<rect x="397.5" y="951.3" width="96.6" height="31.8" fill="#CFCFFF"/>
<rect x="493.5" y="951.3" width="97.1" height="31.8" fill="#CFCFFF"/>
<rect x="590" y="951.3" width="106.1" height="31.8" fill="#3D3DFF"/>
<rect x="110.5" y="982.5" width="96.1" height="31.1" fill="#FFFCFC"/>
<rect x="206" y="982.5" width="96.6" height="31.1" fill="#FFF2F2"/>
<rect x="302" y="982.5" width="96.1" height="31.1" fill="#FFD5D5"/>
<rect x="397.5" y="982.5" width="96.6" height="31.1" fill="#9696FF"/>
<rect x="493.5" y="982.5" width="97.1" height="31.1" fill="#6A6AFF"/>
<rect x="590" y="982.5" width="106.1" height="31.1" fill="#3A3AFF"/>
<rect x="110.5" y="1013" width="96.1" height="31.1" fill="#C8C8FF"/>
<rect x="206" y="1013" width="96.6" height="31.1" fill="#FFC5C5"/>
<rect x="302" y="1013" width="96.1" height="31.1" fill="#BDBDFF"/>
<rect x="397.5" y="1013" width="96.6" height="31.1" fill="#8080FF"/>
<rect x="493.5" y="1013" width="97.1" height="31.1" fill="#7A7AFF"/>
<rect x="590" y="1013" width="106.1" height="31.1" fill="#3030FF"/>
<rect x="110.5" y="1043.5" width="96.1" height="31.5" fill="#F3F3FF"/>
<rect x="206" y="1043.5" width="96.6" height="31.5" fill="#D8D8FF"/>
<rect x="302" y="1043.5" width="96.1" height="31.5" fill="#FFDADA"/>
<rect x="397.5" y="1043.5" width="96.6" height="31.5" fill="#FFB8B8"/>
<rect x="493.5" y="1043.5" width="97.1" height="31.5" fill="#F0F0FF"/>
<rect x="590" y="1043.5" width="106.1" height="31.5" fill="#3A3AFF"/>
<rect x="110.5" y="1074.4" width="96.1" height="31.5" fill="#FFF5F5"/>
<rect x="206" y="1074.4" width="96.6" height="31.5" fill="#FF8282"/>
<rect x="302" y="1074.4" width="96.1" height="31.5" fill="#A2A2FF"/>
<rect x="397.5" y="1074.4" width="96.6" height="31.5" fill="#BBBBFF"/>
<rect x="493.5" y="1074.4" width="97.1" height="31.5" fill="#5050FF"/>
<rect x="590" y="1074.4" width="106.1" height="31.5" fill="#2E2EFF"/>
<rect x="110.5" y="1105.3" width="96.1" height="30.8" fill="#E8E8FF"/>
<rect x="206" y="1105.3" width="96.6" height="30.8" fill="#FFD0D0"/>
<rect x="302" y="1105.3" width="96.1" height="30.8" fill="#FFA2A2"/>
<rect x="397.5" y="1105.3" width="96.6" height="30.8" fill="#8A8AFF"/>
<rect x="493.5" y="1105.3" width="97.1" height="30.8" fill="#6A6AFF"/>
<rect x="590" y="1105.3" width="106.1" height="30.8" fill="#3D3DFF"/>
<rect x="110.5" y="1135.5" width="96.1" height="31.6" fill="#B5B5FF"/>
<rect x="206" y="1135.5" width="96.6" height="31.6" fill="#F0F0FF"/>
<rect x="302" y="1135.5" width="96.1" height="31.6" fill="#FFF2F2"/>
<rect x="397.5" y="1135.5" width="96.6" height="31.6" fill="#FFA5A5"/>
<rect x="493.5" y="1135.5" width="97.1" height="31.6" fill="#E0E0FF"/>
<rect x="590" y="1135.5" width="106.1" height="31.6" fill="#4040FF"/>
<rect x="110.5" y="1166.5" width="96.1" height="30.9" fill="#BFBFFF"/>
<rect x="206" y="1166.5" width="96.6" height="30.9" fill="#FFC5C5"/>
<rect x="302" y="1166.5" width="96.1" height="30.9" fill="#AAAAFF"/>
<rect x="397.5" y="1166.5" width="96.6" height="30.9" fill="#9494FF"/>
<rect x="493.5" y="1166.5" width="97.1" height="30.9" fill="#3A3AFF"/>
<rect x="590" y="1166.5" width="106.1" height="30.9" fill="#4A4AFF"/>
<rect x="110.5" y="1196.8" width="96.1" height="31.8" fill="#FF7070"/>
<rect x="206" y="1196.8" width="96.6" height="31.8" fill="#FF5F5F"/>
<rect x="302" y="1196.8" width="96.1" height="31.8" fill="#D8D8FF"/>
<rect x="397.5" y="1196.8" width="96.6" height="31.8" fill="#FFFCFF"/>
<rect x="493.5" y="1196.8" width="97.1" height="31.8" fill="#A0A0FF"/>
<rect x="590" y="1196.8" width="106.1" height="31.8" fill="#3535FF"/>
<rect x="110.5" y="1228" width="96.1" height="30.5" fill="#D8D8FF"/>
<rect x="206" y="1228" width="96.6" height="30.5" fill="#B0B0FF"/>
<rect x="302" y="1228" width="96.1" height="30.5" fill="#A3A3FF"/>
<rect x="397.5" y="1228" width="96.6" height="30.5" fill="#FFFCFF"/>
<rect x="493.5" y="1228" width="97.1" height="30.5" fill="#A0A0FF"/>
<rect x="590" y="1228" width="106.1" height="30.5" fill="#3D3DFF"/>
<rect x="110.5" y="1257.9" width="96.1" height="32.4" fill="#BCBCFF"/>
<rect x="206" y="1257.9" width="96.6" height="32.4" fill="#FFECEC"/>
<rect x="302" y="1257.9" width="96.1" height="32.4" fill="#E5E5FF"/>
<rect x="397.5" y="1257.9" width="96.6" height="32.4" fill="#E0E0FF"/>
<rect x="493.5" y="1257.9" width="97.1" height="32.4" fill="#BBBBFF"/>
<rect x="590" y="1257.9" width="106.1" height="32.4" fill="#3838FF"/>
<rect x="110.5" y="1289.7" width="96.1" height="31.2" fill="#BCBCFF"/>
<rect x="206" y="1289.7" width="96.6" height="31.2" fill="#FF4C4C"/>
<rect x="302" y="1289.7" width="96.1" height="31.2" fill="#FFE3E3"/>
<rect x="397.5" y="1289.7" width="96.6" height="31.2" fill="#F5F5FF"/>
<rect x="493.5" y="1289.7" width="97.1" height="31.2" fill="#A3A3FF"/>
<rect x="590" y="1289.7" width="106.1" height="31.2" fill="#3636FF"/>
<rect x="110.5" y="1320.3" width="96.1" height="30.8" fill="#FF3535"/>
<rect x="206" y="1320.3" width="96.6" height="30.8" fill="#FFA5A5"/>
<rect x="302" y="1320.3" width="96.1" height="30.8" fill="#C5C5FF"/>
<rect x="397.5" y="1320.3" width="96.6" height="30.8" fill="#8080FF"/>
<rect x="493.5" y="1320.3" width="97.1" height="30.8" fill="#9A9AFF"/>
<rect x="590" y="1320.3" width="106.1" height="30.8" fill="#3636FF"/>
<rect x="110.5" y="1350.5" width="96.1" height="31.1" fill="#E0E0FF"/>
<rect x="206" y="1350.5" width="96.6" height="31.1" fill="#FFF2F2"/>
<rect x="302" y="1350.5" width="96.1" height="31.1" fill="#EAEAFF"/>
<rect x="397.5" y="1350.5" width="96.6" height="31.1" fill="#D8D8FF"/>
<rect x="493.5" y="1350.5" width="97.1" height="31.1" fill="#A0A0FF"/>
<rect x="590" y="1350.5" width="106.1" height="31.1" fill="#2F2FFF"/>
<rect x="110.5" y="1381" width="96.1" height="31.5" fill="#FFC0C0"/>
<rect x="206" y="1381" width="96.6" height="31.5" fill="#FFF2F2"/>
<rect x="302" y="1381" width="96.1" height="31.5" fill="#C0C0FF"/>
<rect x="397.5" y="1381" width="96.6" height="31.5" fill="#D8D8FF"/>
<rect x="493.5" y="1381" width="97.1" height="31.5" fill="#5858FF"/>
<rect x="590" y="1381" width="106.1" height="31.5" fill="#2F2FFF"/>
<rect x="110.5" y="1411.9" width="96.1" height="30.6" fill="#EAEAFF"/>
<rect x="206" y="1411.9" width="96.6" height="30.6" fill="#E3E3FF"/>
<rect x="302" y="1411.9" width="96.1" height="30.6" fill="#A0A0FF"/>
<rect x="397.5" y="1411.9" width="96.6" height="30.6" fill="#5858FF"/>
<rect x="493.5" y="1411.9" width="97.1" height="30.6" fill="#C5C5FF"/>
<rect x="590" y="1411.9" width="106.1" height="30.6" fill="#5252FF"/>
<rect x="110.5" y="1441.9" width="96.1" height="41.7" fill="#FFC8C8"/>
<rect x="206" y="1441.9" width="96.6" height="41.7" fill="#FF9E9E"/>
<rect x="302" y="1441.9" width="96.1" height="41.7" fill="#FFEAEA"/>
<rect x="397.5" y="1441.9" width="96.6" height="41.7" fill="#E3E3FF"/>
<rect x="493.5" y="1441.9" width="97.1" height="41.7" fill="#5C5CFF"/>
<rect x="590" y="1441.9" width="106.1" height="41.7" fill="#2F2FFF"/>
</g>
<rect x="116.5" y="621" width="573.5" height="858" fill="none" stroke="#000" stroke-width="6"/>
<text x="147.4" y="602.5" font-size="31.72" transform="rotate(-30 147.4 602.5)" textLength="72.90" lengthAdjust="spacingAndGlyphs">Liver</text>
<text x="224.6" y="605" font-size="31.72" transform="rotate(-30 224.6 605)" textLength="100.00" lengthAdjust="spacingAndGlyphs">Spleen</text>
<text x="322.4" y="607.2" font-size="31.72" transform="rotate(-30 322.4 607.2)" textLength="101.69" lengthAdjust="spacingAndGlyphs">Kidney</text>
<text x="429.7" y="604" font-size="31.72" transform="rotate(-30 429.7 604)" textLength="77.98" lengthAdjust="spacingAndGlyphs">Heart</text>
<text x="526.8" y="602.3" font-size="31.72" transform="rotate(-30 526.8 602.3)" textLength="74.52" lengthAdjust="spacingAndGlyphs">Lung</text>
<text x="617.6" y="606" font-size="31.72" transform="rotate(-30 617.6 606)" textLength="86.39" lengthAdjust="spacingAndGlyphs">Blood</text>
<line x1="68.5" y1="612.4" x2="68.5" y2="730.4" stroke="#000" stroke-width="4.8"/>
<text x="57.6" y="669.7" font-size="32.76" text-anchor="middle" transform="rotate(-90 57.6 669.7)" textLength="111.97" lengthAdjust="spacingAndGlyphs">Control</text>
<line x1="68.5" y1="735.8" x2="68.5" y2="853.8" stroke="#000" stroke-width="4.8"/>
<text x="57.6" y="793.1" font-size="32.76" text-anchor="middle" transform="rotate(-90 57.6 793.1)" textLength="45.51" lengthAdjust="spacingAndGlyphs">6 h</text>
<line x1="68.5" y1="859.2" x2="68.5" y2="977.2" stroke="#000" stroke-width="4.8"/>
<text x="57.6" y="916.5" font-size="32.76" text-anchor="middle" transform="rotate(-90 57.6 916.5)" textLength="63.03" lengthAdjust="spacingAndGlyphs">24 h</text>
<line x1="68.5" y1="982.6" x2="68.5" y2="1100.6" stroke="#000" stroke-width="4.8"/>
<text x="57.6" y="1039.9" font-size="32.76" text-anchor="middle" transform="rotate(-90 57.6 1039.9)" textLength="63.03" lengthAdjust="spacingAndGlyphs">48 h</text>
<line x1="68.5" y1="1106" x2="68.5" y2="1224" stroke="#000" stroke-width="4.8"/>
<text x="57.6" y="1163.3" font-size="32.76" text-anchor="middle" transform="rotate(-90 57.6 1163.3)" textLength="63.03" lengthAdjust="spacingAndGlyphs">72 h</text>
<line x1="68.5" y1="1229.4" x2="68.5" y2="1347.4" stroke="#000" stroke-width="4.8"/>
<text x="57.6" y="1286.7" font-size="32.76" text-anchor="middle" transform="rotate(-90 57.6 1286.7)" textLength="49.02" lengthAdjust="spacingAndGlyphs">7 D</text>
<line x1="68.5" y1="1352.8" x2="68.5" y2="1470.8" stroke="#000" stroke-width="4.8"/>
<text x="57.6" y="1410.1" font-size="32.76" text-anchor="middle" transform="rotate(-90 57.6 1410.1)" textLength="66.54" lengthAdjust="spacingAndGlyphs">15 D</text>
<defs><linearGradient id="cb1" x1="0" y1="0" x2="0" y2="1"><stop offset="0" stop-color="#FF0000"/><stop offset="0.5" stop-color="#FFFFFF"/><stop offset="1" stop-color="#0000FF"/></linearGradient></defs>
<rect x="733" y="681.9" width="36.6" height="726.2" fill="url(#cb1)" stroke="#000" stroke-width="4"/>
<line x1="719.9" y1="681.9" x2="782.8" y2="681.9" stroke="#000" stroke-width="4"/>
<text x="787.8" y="697.3" font-size="32.24" textLength="51.72" lengthAdjust="spacingAndGlyphs">500</text>
<line x1="719.9" y1="827.1" x2="782.8" y2="827.1" stroke="#000" stroke-width="4"/>
<text x="787.8" y="842.5" font-size="32.24" textLength="51.72" lengthAdjust="spacingAndGlyphs">400</text>
<line x1="719.9" y1="972.4" x2="782.8" y2="972.4" stroke="#000" stroke-width="4"/>
<text x="787.8" y="987.8" font-size="32.24" textLength="51.72" lengthAdjust="spacingAndGlyphs">300</text>
<line x1="719.9" y1="1117.6" x2="782.8" y2="1117.6" stroke="#000" stroke-width="4"/>
<text x="787.8" y="1133" font-size="32.24" textLength="51.72" lengthAdjust="spacingAndGlyphs">200</text>
<line x1="719.9" y1="1262.9" x2="782.8" y2="1262.9" stroke="#000" stroke-width="4"/>
<text x="787.8" y="1278.3" font-size="32.24" textLength="51.72" lengthAdjust="spacingAndGlyphs">100</text>
<line x1="719.9" y1="1408.1" x2="782.8" y2="1408.1" stroke="#000" stroke-width="4"/>
<text x="806.5" y="1423.5" font-size="32.24" textLength="17.24" lengthAdjust="spacingAndGlyphs">0</text>
<text x="846" y="697.3" font-size="32.24" textLength="64.35" lengthAdjust="spacingAndGlyphs">µg/g</text>
<text x="846" y="1423.5" font-size="32.24" textLength="64.35" lengthAdjust="spacingAndGlyphs">µg/g</text>
<text x="1155.2" y="566.5" font-size="32.24" text-anchor="middle" textLength="74.09" lengthAdjust="spacingAndGlyphs">Liver</text>
<text x="1336.2" y="566.5" font-size="32.24" text-anchor="middle" textLength="101.64" lengthAdjust="spacingAndGlyphs">Spleen</text>
<text x="1517.4" y="566.5" font-size="32.24" text-anchor="middle" textLength="103.35" lengthAdjust="spacingAndGlyphs">Kidney</text>
<text x="1698.4" y="566.5" font-size="32.24" text-anchor="middle" textLength="79.26" lengthAdjust="spacingAndGlyphs">Heart</text>
<text x="1880.2" y="566.5" font-size="32.24" text-anchor="middle" textLength="75.74" lengthAdjust="spacingAndGlyphs">Lung</text>
<text x="1054.8" y="642.9" font-size="33.28" text-anchor="middle" transform="rotate(-90 1054.8 642.9)" textLength="113.75" lengthAdjust="spacingAndGlyphs">Control</text>
<text x="1054.8" y="777.8" font-size="33.28" text-anchor="middle" transform="rotate(-90 1054.8 777.8)" textLength="46.23" lengthAdjust="spacingAndGlyphs">6 h</text>
<text x="1054.8" y="912.6" font-size="33.28" text-anchor="middle" transform="rotate(-90 1054.8 912.6)" textLength="64.03" lengthAdjust="spacingAndGlyphs">24 h</text>
<text x="1054.8" y="1047.5" font-size="33.28" text-anchor="middle" transform="rotate(-90 1054.8 1047.5)" textLength="64.03" lengthAdjust="spacingAndGlyphs">48 h</text>
<text x="1054.8" y="1182.4" font-size="33.28" text-anchor="middle" transform="rotate(-90 1054.8 1182.4)" textLength="64.03" lengthAdjust="spacingAndGlyphs">72 h</text>
<text x="1054.8" y="1317.3" font-size="33.28" text-anchor="middle" transform="rotate(-90 1054.8 1317.3)" textLength="49.80" lengthAdjust="spacingAndGlyphs">7 D</text>
<text x="1054.8" y="1452.2" font-size="33.28" text-anchor="middle" transform="rotate(-90 1054.8 1452.2)" textLength="67.59" lengthAdjust="spacingAndGlyphs">15 D</text>
<defs><filter id="fLiv" x="0" y="0" width="1" height="1" color-interpolation-filters="sRGB"><feTurbulence type="fractalNoise" baseFrequency="0.5" numOctaves="2" seed="3" result="n"/><feColorMatrix in="n" type="matrix" values="0 0 0 0 0.36 0 0 0 0 0.12 0 0 0 0 0.45 6 0 0 0 -3.660" result="dk"/><feColorMatrix in="n" type="matrix" values="0 0 0 0 0.98 0 0 0 0 0.72 0 0 0 0 0.86 0 6 0 0 -3.780" result="lt"/><feMerge><feMergeNode in="SourceGraphic"/><feMergeNode in="dk"/><feMergeNode in="lt"/></feMerge></filter>
<filter id="fSpl" x="0" y="0" width="1" height="1" color-interpolation-filters="sRGB"><feTurbulence type="fractalNoise" baseFrequency="0.55" numOctaves="2" seed="5" result="n"/><feColorMatrix in="n" type="matrix" values="0 0 0 0 0.3 0 0 0 0 0.1 0 0 0 0 0.45 6 0 0 0 -3.360" result="dk"/><feColorMatrix in="n" type="matrix" values="0 0 0 0 0.97 0 0 0 0 0.85 0 0 0 0 0.95 0 6 0 0 -3.600" result="lt"/><feMerge><feMergeNode in="SourceGraphic"/><feMergeNode in="dk"/><feMergeNode in="lt"/></feMerge></filter>
<filter id="fKid" x="0" y="0" width="1" height="1" color-interpolation-filters="sRGB"><feTurbulence type="fractalNoise" baseFrequency="0.3" numOctaves="2" seed="7" result="n"/><feColorMatrix in="n" type="matrix" values="0 0 0 0 0.5 0 0 0 0 0.2 0 0 0 0 0.58 6 0 0 0 -3.810" result="dk"/><feColorMatrix in="n" type="matrix" values="0 0 0 0 0.98 0 0 0 0 0.88 0 0 0 0 0.94 0 8 0 0 -5.320" result="lt"/><feMerge><feMergeNode in="SourceGraphic"/><feMergeNode in="dk"/><feMergeNode in="lt"/></feMerge></filter>
<filter id="fHrt" x="0" y="0" width="1" height="1" color-interpolation-filters="sRGB"><feTurbulence type="fractalNoise" baseFrequency="0.35" numOctaves="2" seed="9" result="n"/><feColorMatrix in="n" type="matrix" values="0 0 0 0 0.45 0 0 0 0 0.1 0 0 0 0 0.4 6 0 0 0 -3.960" result="dk"/><feColorMatrix in="n" type="matrix" values="0 0 0 0 0.95 0 0 0 0 0.55 0 0 0 0 0.7 0 6 0 0 -4.200" result="lt"/><feMerge><feMergeNode in="SourceGraphic"/><feMergeNode in="dk"/><feMergeNode in="lt"/></feMerge></filter>
<filter id="fKid0" x="0" y="0" width="1" height="1" color-interpolation-filters="sRGB"><feTurbulence type="fractalNoise" baseFrequency="0.1 0.15" numOctaves="2" seed="31" result="t"/><feColorMatrix in="t" type="matrix" values="0 0 0 0 1 0 0 0 0 1 0 0 0 0 1 24 0 0 0 -11.328" result="a1"/><feColorMatrix in="t" type="matrix" values="0 0 0 0 1 0 0 0 0 1 0 0 0 0 1 -24 0 0 0 12.672" result="a2"/><feComposite in="a1" in2="a2" operator="arithmetic" k1="1" k2="0" k3="0" k4="0" result="band"/><feColorMatrix in="band" type="matrix" values="0 0 0 0 0.98 0 0 0 0 0.92 0 0 0 0 0.96 0 0 0 1 0" result="bandc"/><feTurbulence type="fractalNoise" baseFrequency="0.35" numOctaves="2" seed="36" result="n"/><feColorMatrix in="n" type="matrix" values="0 0 0 0 0.5 0 0 0 0 0.2 0 0 0 0 0.58 6 0 0 0 -3.85" result="dk"/><feMerge><feMergeNode in="SourceGraphic"/><feMergeNode in="dk"/><feMergeNode in="bandc"/></feMerge></filter>
<filter id="fKid1" x="0" y="0" width="1" height="1" color-interpolation-filters="sRGB"><feTurbulence type="fractalNoise" baseFrequency="0.1 0.15" numOctaves="2" seed="34" result="t"/><feColorMatrix in="t" type="matrix" values="0 0 0 0 1 0 0 0 0 1 0 0 0 0 1 24 0 0 0 -11.328" result="a1"/><feColorMatrix in="t" type="matrix" values="0 0 0 0 1 0 0 0 0 1 0 0 0 0 1 -24 0 0 0 12.672" result="a2"/><feComposite in="a1" in2="a2" operator="arithmetic" k1="1" k2="0" k3="0" k4="0" result="band"/><feColorMatrix in="band" type="matrix" values="0 0 0 0 0.98 0 0 0 0 0.92 0 0 0 0 0.96 0 0 0 1 0" result="bandc"/><feTurbulence type="fractalNoise" baseFrequency="0.35" numOctaves="2" seed="39" result="n"/><feColorMatrix in="n" type="matrix" values="0 0 0 0 0.5 0 0 0 0 0.2 0 0 0 0 0.58 6 0 0 0 -3.85" result="dk"/><feMerge><feMergeNode in="SourceGraphic"/><feMergeNode in="dk"/><feMergeNode in="bandc"/></feMerge></filter>
<filter id="fKid2" x="0" y="0" width="1" height="1" color-interpolation-filters="sRGB"><feTurbulence type="fractalNoise" baseFrequency="0.1 0.15" numOctaves="2" seed="37" result="t"/><feColorMatrix in="t" type="matrix" values="0 0 0 0 1 0 0 0 0 1 0 0 0 0 1 24 0 0 0 -11.328" result="a1"/><feColorMatrix in="t" type="matrix" values="0 0 0 0 1 0 0 0 0 1 0 0 0 0 1 -24 0 0 0 12.672" result="a2"/><feComposite in="a1" in2="a2" operator="arithmetic" k1="1" k2="0" k3="0" k4="0" result="band"/><feColorMatrix in="band" type="matrix" values="0 0 0 0 0.98 0 0 0 0 0.92 0 0 0 0 0.96 0 0 0 1 0" result="bandc"/><feTurbulence type="fractalNoise" baseFrequency="0.35" numOctaves="2" seed="42" result="n"/><feColorMatrix in="n" type="matrix" values="0 0 0 0 0.5 0 0 0 0 0.2 0 0 0 0 0.58 6 0 0 0 -3.85" result="dk"/><feMerge><feMergeNode in="SourceGraphic"/><feMergeNode in="dk"/><feMergeNode in="bandc"/></feMerge></filter>
<filter id="fKid3" x="0" y="0" width="1" height="1" color-interpolation-filters="sRGB"><feTurbulence type="fractalNoise" baseFrequency="0.1 0.15" numOctaves="2" seed="40" result="t"/><feColorMatrix in="t" type="matrix" values="0 0 0 0 1 0 0 0 0 1 0 0 0 0 1 24 0 0 0 -11.328" result="a1"/><feColorMatrix in="t" type="matrix" values="0 0 0 0 1 0 0 0 0 1 0 0 0 0 1 -24 0 0 0 12.672" result="a2"/><feComposite in="a1" in2="a2" operator="arithmetic" k1="1" k2="0" k3="0" k4="0" result="band"/><feColorMatrix in="band" type="matrix" values="0 0 0 0 0.98 0 0 0 0 0.92 0 0 0 0 0.96 0 0 0 1 0" result="bandc"/><feTurbulence type="fractalNoise" baseFrequency="0.35" numOctaves="2" seed="45" result="n"/><feColorMatrix in="n" type="matrix" values="0 0 0 0 0.5 0 0 0 0 0.2 0 0 0 0 0.58 6 0 0 0 -3.85" result="dk"/><feMerge><feMergeNode in="SourceGraphic"/><feMergeNode in="dk"/><feMergeNode in="bandc"/></feMerge></filter>
<filter id="fKid4" x="0" y="0" width="1" height="1" color-interpolation-filters="sRGB"><feTurbulence type="fractalNoise" baseFrequency="0.1 0.15" numOctaves="2" seed="43" result="t"/><feColorMatrix in="t" type="matrix" values="0 0 0 0 1 0 0 0 0 1 0 0 0 0 1 24 0 0 0 -11.328" result="a1"/><feColorMatrix in="t" type="matrix" values="0 0 0 0 1 0 0 0 0 1 0 0 0 0 1 -24 0 0 0 12.672" result="a2"/><feComposite in="a1" in2="a2" operator="arithmetic" k1="1" k2="0" k3="0" k4="0" result="band"/><feColorMatrix in="band" type="matrix" values="0 0 0 0 0.98 0 0 0 0 0.92 0 0 0 0 0.96 0 0 0 1 0" result="bandc"/><feTurbulence type="fractalNoise" baseFrequency="0.35" numOctaves="2" seed="48" result="n"/><feColorMatrix in="n" type="matrix" values="0 0 0 0 0.5 0 0 0 0 0.2 0 0 0 0 0.58 6 0 0 0 -3.85" result="dk"/><feMerge><feMergeNode in="SourceGraphic"/><feMergeNode in="dk"/><feMergeNode in="bandc"/></feMerge></filter>
<filter id="fKid5" x="0" y="0" width="1" height="1" color-interpolation-filters="sRGB"><feTurbulence type="fractalNoise" baseFrequency="0.1 0.15" numOctaves="2" seed="46" result="t"/><feColorMatrix in="t" type="matrix" values="0 0 0 0 1 0 0 0 0 1 0 0 0 0 1 24 0 0 0 -11.328" result="a1"/><feColorMatrix in="t" type="matrix" values="0 0 0 0 1 0 0 0 0 1 0 0 0 0 1 -24 0 0 0 12.672" result="a2"/><feComposite in="a1" in2="a2" operator="arithmetic" k1="1" k2="0" k3="0" k4="0" result="band"/><feColorMatrix in="band" type="matrix" values="0 0 0 0 0.98 0 0 0 0 0.92 0 0 0 0 0.96 0 0 0 1 0" result="bandc"/><feTurbulence type="fractalNoise" baseFrequency="0.35" numOctaves="2" seed="51" result="n"/><feColorMatrix in="n" type="matrix" values="0 0 0 0 0.5 0 0 0 0 0.2 0 0 0 0 0.58 6 0 0 0 -3.85" result="dk"/><feMerge><feMergeNode in="SourceGraphic"/><feMergeNode in="dk"/><feMergeNode in="bandc"/></feMerge></filter>
<filter id="fKid6" x="0" y="0" width="1" height="1" color-interpolation-filters="sRGB"><feTurbulence type="fractalNoise" baseFrequency="0.1 0.15" numOctaves="2" seed="49" result="t"/><feColorMatrix in="t" type="matrix" values="0 0 0 0 1 0 0 0 0 1 0 0 0 0 1 24 0 0 0 -11.328" result="a1"/><feColorMatrix in="t" type="matrix" values="0 0 0 0 1 0 0 0 0 1 0 0 0 0 1 -24 0 0 0 12.672" result="a2"/><feComposite in="a1" in2="a2" operator="arithmetic" k1="1" k2="0" k3="0" k4="0" result="band"/><feColorMatrix in="band" type="matrix" values="0 0 0 0 0.98 0 0 0 0 0.92 0 0 0 0 0.96 0 0 0 1 0" result="bandc"/><feTurbulence type="fractalNoise" baseFrequency="0.35" numOctaves="2" seed="54" result="n"/><feColorMatrix in="n" type="matrix" values="0 0 0 0 0.5 0 0 0 0 0.2 0 0 0 0 0.58 6 0 0 0 -3.85" result="dk"/><feMerge><feMergeNode in="SourceGraphic"/><feMergeNode in="dk"/><feMergeNode in="bandc"/></feMerge></filter>
<filter id="fBlur" x="-0.2" y="-0.2" width="1.4" height="1.4"><feGaussianBlur stdDeviation="1.2"/></filter>
<filter id="fLung0" x="0" y="0" width="1" height="1" color-interpolation-filters="sRGB"><feTurbulence type="fractalNoise" baseFrequency="0.15" numOctaves="2" seed="11" result="n"/><feTurbulence type="fractalNoise" baseFrequency="0.05" numOctaves="2" seed="41" result="n2"/><feTurbulence type="fractalNoise" baseFrequency="0.6" numOctaves="1" seed="61" result="m"/><feColorMatrix in="m" type="matrix" values="0 0 0 0 0.40 0 0 0 0 0.10 0 0 0 0 0.40 5 0 0 0 -3.2" result="dk"/><feColorMatrix in="n" type="matrix" values="0 0 0 0 0.93 0 0 0 0 0.92 0 0 0 0 0.945 0 0 -30 0 14.100" result="holes"/><feColorMatrix in="n2" type="matrix" values="0 0 0 0 0.93 0 0 0 0 0.92 0 0 0 0 0.945 0 0 -30 0 11.400" result="holes2"/><feMerge><feMergeNode in="SourceGraphic"/><feMergeNode in="dk"/><feMergeNode in="holes"/><feMergeNode in="holes2"/></feMerge></filter>
<filter id="fLung1" x="0" y="0" width="1" height="1" color-interpolation-filters="sRGB"><feTurbulence type="fractalNoise" baseFrequency="0.15" numOctaves="2" seed="18" result="n"/><feTurbulence type="fractalNoise" baseFrequency="0.05" numOctaves="2" seed="48" result="n2"/><feTurbulence type="fractalNoise" baseFrequency="0.6" numOctaves="1" seed="68" result="m"/><feColorMatrix in="m" type="matrix" values="0 0 0 0 0.40 0 0 0 0 0.10 0 0 0 0 0.40 5 0 0 0 -3.2" result="dk"/><feColorMatrix in="n" type="matrix" values="0 0 0 0 0.93 0 0 0 0 0.92 0 0 0 0 0.945 0 0 -30 0 13.800" result="holes"/><feColorMatrix in="n2" type="matrix" values="0 0 0 0 0.93 0 0 0 0 0.92 0 0 0 0 0.945 0 0 -30 0 13.200" result="holes2"/><feMerge><feMergeNode in="SourceGraphic"/><feMergeNode in="dk"/><feMergeNode in="holes"/><feMergeNode in="holes2"/></feMerge></filter>
<filter id="fLung2" x="0" y="0" width="1" height="1" color-interpolation-filters="sRGB"><feTurbulence type="fractalNoise" baseFrequency="0.15" numOctaves="2" seed="25" result="n"/><feTurbulence type="fractalNoise" baseFrequency="0.05" numOctaves="2" seed="55" result="n2"/><feTurbulence type="fractalNoise" baseFrequency="0.6" numOctaves="1" seed="75" result="m"/><feColorMatrix in="m" type="matrix" values="0 0 0 0 0.40 0 0 0 0 0.10 0 0 0 0 0.40 5 0 0 0 -3.2" result="dk"/><feColorMatrix in="n" type="matrix" values="0 0 0 0 0.93 0 0 0 0 0.92 0 0 0 0 0.945 0 0 -30 0 12.600" result="holes"/><feColorMatrix in="n2" type="matrix" values="0 0 0 0 0.93 0 0 0 0 0.92 0 0 0 0 0.945 0 0 -30 0 9.000" result="holes2"/><feMerge><feMergeNode in="SourceGraphic"/><feMergeNode in="dk"/><feMergeNode in="holes"/><feMergeNode in="holes2"/></feMerge></filter>
<filter id="fLung3" x="0" y="0" width="1" height="1" color-interpolation-filters="sRGB"><feTurbulence type="fractalNoise" baseFrequency="0.15" numOctaves="2" seed="32" result="n"/><feTurbulence type="fractalNoise" baseFrequency="0.05" numOctaves="2" seed="62" result="n2"/><feTurbulence type="fractalNoise" baseFrequency="0.6" numOctaves="1" seed="82" result="m"/><feColorMatrix in="m" type="matrix" values="0 0 0 0 0.40 0 0 0 0 0.10 0 0 0 0 0.40 5 0 0 0 -3.2" result="dk"/><feColorMatrix in="n" type="matrix" values="0 0 0 0 0.93 0 0 0 0 0.92 0 0 0 0 0.945 0 0 -30 0 13.500" result="holes"/><feColorMatrix in="n2" type="matrix" values="0 0 0 0 0.93 0 0 0 0 0.92 0 0 0 0 0.945 0 0 -30 0 10.200" result="holes2"/><feMerge><feMergeNode in="SourceGraphic"/><feMergeNode in="dk"/><feMergeNode in="holes"/><feMergeNode in="holes2"/></feMerge></filter>
<filter id="fLung4" x="0" y="0" width="1" height="1" color-interpolation-filters="sRGB"><feTurbulence type="fractalNoise" baseFrequency="0.15" numOctaves="2" seed="39" result="n"/><feTurbulence type="fractalNoise" baseFrequency="0.05" numOctaves="2" seed="69" result="n2"/><feTurbulence type="fractalNoise" baseFrequency="0.6" numOctaves="1" seed="89" result="m"/><feColorMatrix in="m" type="matrix" values="0 0 0 0 0.40 0 0 0 0 0.10 0 0 0 0 0.40 5 0 0 0 -3.2" result="dk"/><feColorMatrix in="n" type="matrix" values="0 0 0 0 0.93 0 0 0 0 0.92 0 0 0 0 0.945 0 0 -30 0 15.900" result="holes"/><feColorMatrix in="n2" type="matrix" values="0 0 0 0 0.93 0 0 0 0 0.92 0 0 0 0 0.945 0 0 -30 0 14.100" result="holes2"/><feMerge><feMergeNode in="SourceGraphic"/><feMergeNode in="dk"/><feMergeNode in="holes"/><feMergeNode in="holes2"/></feMerge></filter>
<filter id="fLung5" x="0" y="0" width="1" height="1" color-interpolation-filters="sRGB"><feTurbulence type="fractalNoise" baseFrequency="0.15" numOctaves="2" seed="46" result="n"/><feTurbulence type="fractalNoise" baseFrequency="0.05" numOctaves="2" seed="76" result="n2"/><feTurbulence type="fractalNoise" baseFrequency="0.6" numOctaves="1" seed="96" result="m"/><feColorMatrix in="m" type="matrix" values="0 0 0 0 0.40 0 0 0 0 0.10 0 0 0 0 0.40 5 0 0 0 -3.2" result="dk"/><feColorMatrix in="n" type="matrix" values="0 0 0 0 0.93 0 0 0 0 0.92 0 0 0 0 0.945 0 0 -30 0 14.100" result="holes"/><feColorMatrix in="n2" type="matrix" values="0 0 0 0 0.93 0 0 0 0 0.92 0 0 0 0 0.945 0 0 -30 0 11.400" result="holes2"/><feMerge><feMergeNode in="SourceGraphic"/><feMergeNode in="dk"/><feMergeNode in="holes"/><feMergeNode in="holes2"/></feMerge></filter>
<filter id="fLung6" x="0" y="0" width="1" height="1" color-interpolation-filters="sRGB"><feTurbulence type="fractalNoise" baseFrequency="0.15" numOctaves="2" seed="53" result="n"/><feTurbulence type="fractalNoise" baseFrequency="0.05" numOctaves="2" seed="83" result="n2"/><feTurbulence type="fractalNoise" baseFrequency="0.6" numOctaves="1" seed="103" result="m"/><feColorMatrix in="m" type="matrix" values="0 0 0 0 0.40 0 0 0 0 0.10 0 0 0 0 0.40 5 0 0 0 -3.2" result="dk"/><feColorMatrix in="n" type="matrix" values="0 0 0 0 0.93 0 0 0 0 0.92 0 0 0 0 0.945 0 0 -30 0 13.500" result="holes"/><feColorMatrix in="n2" type="matrix" values="0 0 0 0 0.93 0 0 0 0 0.92 0 0 0 0 0.945 0 0 -30 0 10.800" result="holes2"/><feMerge><feMergeNode in="SourceGraphic"/><feMergeNode in="dk"/><feMergeNode in="holes"/><feMergeNode in="holes2"/></feMerge></filter>
<radialGradient id="gBlob"><stop offset="0" stop-color="#6E3494" stop-opacity="0.95"/><stop offset="0.65" stop-color="#723894" stop-opacity="0.75"/><stop offset="1" stop-color="#7A3C96" stop-opacity="0"/></radialGradient>
<clipPath id="cS0"><rect x="1247.2" y="575.0" width="177" height="132.7"/></clipPath>
<clipPath id="cH0"><rect x="1609.4" y="575.0" width="177" height="132.7"/></clipPath>
<clipPath id="cL0"><rect x="1791.2" y="575.0" width="177" height="132.7"/></clipPath>
<clipPath id="cS1"><rect x="1247.2" y="709.9" width="177" height="132.7"/></clipPath>
<clipPath id="cH1"><rect x="1609.4" y="709.9" width="177" height="132.7"/></clipPath>
<clipPath id="cS2"><rect x="1247.2" y="844.8" width="177" height="132.7"/></clipPath>
<clipPath id="cH2"><rect x="1609.4" y="844.8" width="177" height="132.7"/></clipPath>
<clipPath id="cS3"><rect x="1247.2" y="979.7" width="177" height="132.7"/></clipPath>
<clipPath id="cH3"><rect x="1609.4" y="979.7" width="177" height="132.7"/></clipPath>
<clipPath id="cS4"><rect x="1247.2" y="1114.6" width="177" height="132.7"/></clipPath>
<clipPath id="cH4"><rect x="1609.4" y="1114.6" width="177" height="132.7"/></clipPath>
<clipPath id="cL4"><rect x="1791.2" y="1114.6" width="177" height="132.7"/></clipPath>
<clipPath id="cS5"><rect x="1247.2" y="1249.5" width="177" height="132.7"/></clipPath>
<clipPath id="cH5"><rect x="1609.4" y="1249.5" width="177" height="132.7"/></clipPath>
<clipPath id="cS6"><rect x="1247.2" y="1384.4" width="177" height="132.7"/></clipPath>
<clipPath id="cH6"><rect x="1609.4" y="1384.4" width="177" height="132.7"/></clipPath>
<clipPath id="cL6"><rect x="1791.2" y="1384.4" width="177" height="132.7"/></clipPath>
<filter id="fSplOv" x="0" y="0" width="1" height="1" color-interpolation-filters="sRGB"><feTurbulence type="fractalNoise" baseFrequency="0.55" numOctaves="2" seed="21" result="n"/><feColorMatrix in="n" type="matrix" values="0 0 0 0 0.36 0 0 0 0 0.12 0 0 0 0 0.50 6 0 0 0 -3.45" result="dk"/><feColorMatrix in="n" type="matrix" values="0 0 0 0 0.93 0 0 0 0 0.74 0 0 0 0 0.90 0 7 0 0 -4.6" result="lt"/><feMerge><feMergeNode in="dk"/><feMergeNode in="lt"/></feMerge></filter></defs>
<rect x="1066.2" y="575.0" width="177" height="132.7" fill="#D5488A" filter="url(#fLiv)"/>
<g clip-path="url(#cS0)">
<rect x="1247.2" y="575.0" width="177" height="132.7" fill="#B04E8E"/>
<ellipse cx="1344.5" cy="597.6" rx="30.1" ry="29.2" fill="url(#gBlob)" opacity="0.95"/>
<ellipse cx="1353.4" cy="673.2" rx="21.2" ry="22.6" fill="url(#gBlob)" opacity="0.9"/>
<ellipse cx="1273.8" cy="634.7" rx="21.2" ry="26.5" fill="url(#gBlob)" opacity="0.35"/>
</g>
<rect x="1428.4" y="575.0" width="177" height="132.7" fill="#E24E86" filter="url(#fKid0)"/>
<rect x="1609.4" y="575.0" width="177" height="132.7" fill="#D63C74" filter="url(#fHrt)"/>
<g clip-path="url(#cH0)" fill="#F8F4F6"><path d="M1556.7,658.3 Q1635.2,659.8 1713.7,655.9 Q1635.1,654.3 1556.7,658.3Z"/><path d="M1619.6,693.1 Q1686.2,690.1 1752.7,685.2 Q1686.1,688.1 1619.6,693.1Z"/><path d="M1530.8,708.7 Q1618.0,703.2 1704.9,694.2 Q1617.7,699.7 1530.8,708.7Z"/><path d="M1696.6,637.5 Q1745.4,635.1 1794.1,630.0 Q1745.2,632.4 1696.6,637.5Z"/><path d="M1669.8,706.5 Q1720.4,707.8 1770.8,702.1 Q1720.1,700.8 1669.8,706.5Z"/><path d="M1721.2,696.2 Q1769.2,693.4 1816.6,685.4 Q1768.6,688.2 1721.2,696.2Z"/><path d="M1532.1,659.5 Q1610.6,653.9 1688.7,643.6 Q1610.2,649.2 1532.1,659.5Z"/><path d="M1706.5,701.3 Q1758.4,701.7 1810.1,698.1 Q1758.2,697.6 1706.5,701.3Z"/><path d="M1701.5,628.9 Q1769.2,630.1 1836.8,624.2 Q1769.0,623.1 1701.5,628.9Z"/><path d="M1671.1,689.3 Q1736.4,688.4 1801.7,684.3 Q1736.3,685.2 1671.1,689.3Z"/><path d="M1620.3,651.2 Q1703.0,648.5 1785.5,642.2 Q1702.8,644.9 1620.3,651.2Z"/><path d="M1660.0,698.2 Q1744.4,693.0 1828.4,682.6 Q1743.9,687.8 1660.0,698.2Z"/><path d="M1683.7,703.1 Q1759.5,702.2 1835.0,695.5 Q1759.2,696.3 1683.7,703.1Z"/><path d="M1649.4,668.7 Q1696.7,671.6 1744.1,669.2 Q1696.8,666.2 1649.4,668.7Z"/><path d="M1563.8,694.2 Q1638.7,686.0 1713.3,675.5 Q1638.4,683.7 1563.8,694.2Z"/><path d="M1659.3,636.7 Q1714.9,637.7 1770.3,633.6 Q1714.7,632.6 1659.3,636.7Z"/><path d="M1685.6,674.0 Q1742.0,668.4 1798.2,661.1 Q1741.8,666.8 1685.6,674.0Z"/><path d="M1567.7,668.9 Q1643.6,665.0 1719.3,658.3 Q1643.4,662.2 1567.7,668.9Z"/><path d="M1699.5,654.1 Q1775.2,654.6 1850.8,650.0 Q1775.1,649.5 1699.5,654.1Z"/><path d="M1618.7,665.8 Q1693.8,666.7 1768.8,665.1 Q1693.8,664.2 1618.7,665.8Z"/><path d="M1714.3,625.0 Q1764.1,620.7 1813.5,613.3 Q1763.7,617.7 1714.3,625.0Z"/><path d="M1588.0,673.5 Q1634.2,675.4 1680.3,675.3 Q1634.2,673.4 1588.0,673.5Z"/><path d="M1617.0,668.8 Q1680.7,666.8 1744.2,661.2 Q1680.5,663.3 1617.0,668.8Z"/><path d="M1591.5,673.9 Q1643.9,669.9 1696.1,663.5 Q1643.7,667.5 1591.5,673.9Z"/><path d="M1612.7,706.0 Q1682.7,704.8 1752.2,696.5 Q1682.2,697.7 1612.7,706.0Z"/><path d="M1606.1,684.3 Q1655.8,684.4 1704.9,677.4 Q1655.3,677.2 1606.1,684.3Z"/><path d="M1634.7,588.5 Q1670.4,588.6 1706.0,586.7 Q1670.3,586.6 1634.7,588.5Z"/><path d="M1691.0,589.2 Q1716.1,586.2 1741.2,582.3 Q1716.0,585.3 1691.0,589.2Z"/><path d="M1675.1,611.1 Q1729.6,605.0 1783.9,597.1 Q1729.4,603.2 1675.1,611.1Z"/><path d="M1684.0,597.1 Q1734.5,596.1 1784.9,594.2 Q1734.4,595.1 1684.0,597.1Z"/><path d="M1593.9,609.7 Q1630.9,604.6 1667.6,597.7 Q1630.6,602.8 1593.9,609.7Z"/><path d="M1718.6,580.4 Q1769.1,576.0 1819.5,569.9 Q1768.9,574.3 1718.6,580.4Z"/><path d="M1614.8,599.2 Q1655.0,593.3 1695.0,586.3 Q1654.8,592.2 1614.8,599.2Z"/><path d="M1726.9,603.4 Q1761.4,601.3 1795.7,597.7 Q1761.2,599.8 1726.9,603.4Z"/><path d="M1603.7,608.3 Q1648.8,602.6 1693.8,596.0 Q1648.7,601.7 1603.7,608.3Z"/><path d="M1732.0,605.5 Q1764.7,602.5 1797.2,598.2 Q1764.5,601.3 1732.0,605.5Z"/></g>
<rect x="1791.2" y="575.0" width="177" height="132.7" fill="#BC4480" filter="url(#fLung0)"/>
<g clip-path="url(#cL0)">
<ellipse cx="1826.6" cy="658.6" rx="26.6" ry="11.9" fill="#EEECF1" opacity="0.95" filter="url(#fBlur)"/>
<ellipse cx="1844.3" cy="670.5" rx="14.2" ry="8.0" fill="#EEECF1" opacity="0.95" filter="url(#fBlur)"/>
<ellipse cx="1879.7" cy="675.9" rx="10.6" ry="9.3" fill="#EEECF1" opacity="0.9" filter="url(#fBlur)"/>
<ellipse cx="1897.4" cy="614.8" rx="8.8" ry="11.9" fill="#EEECF1" opacity="0.9" filter="url(#fBlur)"/>
<ellipse cx="1927.5" cy="644.0" rx="8.8" ry="8.0" fill="#EEECF1" opacity="0.9" filter="url(#fBlur)"/>
<ellipse cx="1830.1" cy="590.9" rx="8.8" ry="8.0" fill="#EEECF1" opacity="0.9" filter="url(#fBlur)"/>
</g>
<rect x="1066.2" y="709.9" width="177" height="132.7" fill="#D84A8A" filter="url(#fLiv)"/>
<g clip-path="url(#cS1)">
<rect x="1247.2" y="709.9" width="177" height="132.7" fill="#C05088"/>
<ellipse cx="1403.0" cy="753.7" rx="35.4" ry="47.8" fill="url(#gBlob)" opacity="1.0"/>
<ellipse cx="1296.8" cy="824.0" rx="53.1" ry="31.8" fill="url(#gBlob)" opacity="0.85"/>
<ellipse cx="1252.5" cy="789.5" rx="14.2" ry="26.5" fill="url(#gBlob)" opacity="0.5"/>
</g>
<rect x="1428.4" y="709.9" width="177" height="132.7" fill="#DE528A" filter="url(#fKid1)"/>
<rect x="1609.4" y="709.9" width="177" height="132.7" fill="#D43A6E" filter="url(#fHrt)"/>
<g clip-path="url(#cH1)" fill="#F8F4F6"><path d="M1645.2,785.0 Q1714.5,738.8 1779.4,686.4 Q1710.0,732.7 1645.2,785.0Z"/><path d="M1688.7,764.3 Q1727.9,739.9 1764.9,712.4 Q1725.8,736.8 1688.7,764.3Z"/><path d="M1617.4,863.4 Q1648.0,840.0 1676.6,814.1 Q1646.0,837.6 1617.4,863.4Z"/><path d="M1697.5,791.9 Q1746.8,760.2 1793.8,725.2 Q1744.5,756.9 1697.5,791.9Z"/><path d="M1637.3,773.5 Q1682.1,739.0 1724.4,701.5 Q1679.7,736.1 1637.3,773.5Z"/><path d="M1700.6,841.2 Q1757.3,803.1 1809.7,759.1 Q1752.9,797.2 1700.6,841.2Z"/><path d="M1634.6,801.9 Q1678.5,768.3 1718.5,730.1 Q1674.6,763.7 1634.6,801.9Z"/><path d="M1648.3,810.2 Q1692.1,781.8 1734.8,751.6 Q1690.9,780.0 1648.3,810.2Z"/><path d="M1577.9,811.6 Q1611.8,785.7 1644.3,758.0 Q1610.4,783.9 1577.9,811.6Z"/><path d="M1565.9,771.8 Q1623.0,732.4 1676.1,688.0 Q1619.1,727.4 1565.9,771.8Z"/><path d="M1677.5,809.6 Q1727.1,775.8 1772.3,736.3 Q1722.7,770.1 1677.5,809.6Z"/><path d="M1710.3,845.9 Q1764.0,802.4 1816.5,757.3 Q1762.7,800.8 1710.3,845.9Z"/><path d="M1546.0,800.5 Q1617.0,758.8 1684.2,711.1 Q1613.1,752.7 1546.0,800.5Z"/><path d="M1568.8,844.0 Q1632.3,806.4 1692.0,763.1 Q1628.6,800.7 1568.8,844.0Z"/><path d="M1571.2,773.6 Q1636.0,736.3 1697.2,693.6 Q1632.5,730.9 1571.2,773.6Z"/><path d="M1653.0,850.5 Q1690.5,831.2 1723.8,805.4 Q1686.3,824.7 1653.0,850.5Z"/><path d="M1619.5,756.8 Q1671.0,721.3 1718.8,681.0 Q1667.3,716.4 1619.5,756.8Z"/><path d="M1554.9,787.3 Q1620.3,748.0 1684.2,706.5 Q1618.9,745.8 1554.9,787.3Z"/><path d="M1619.3,758.7 Q1655.8,740.4 1688.0,715.3 Q1651.5,733.7 1619.3,758.7Z"/><path d="M1614.4,766.5 Q1668.3,725.4 1717.4,678.7 Q1663.5,719.8 1614.4,766.5Z"/><path d="M1673.0,855.3 Q1722.9,825.9 1769.9,791.9 Q1720.0,821.3 1673.0,855.3Z"/><path d="M1596.4,785.8 Q1653.2,748.3 1706.9,706.5 Q1650.1,744.0 1596.4,785.8Z"/><path d="M1626.9,860.7 Q1670.2,836.8 1710.3,807.8 Q1667.0,831.7 1626.9,860.7Z"/><path d="M1644.7,746.2 Q1681.1,718.0 1716.0,688.0 Q1679.6,716.2 1644.7,746.2Z"/><path d="M1586.6,785.6 Q1632.0,757.3 1674.8,725.1 Q1629.4,753.4 1586.6,785.6Z"/><path d="M1685.9,832.0 Q1730.9,803.5 1772.5,770.2 Q1727.4,798.7 1685.9,832.0Z"/><path d="M1589.7,810.7 Q1633.7,784.8 1674.3,754.0 Q1630.3,779.8 1589.7,810.7Z"/><path d="M1607.9,804.9 Q1653.2,769.1 1696.1,730.4 Q1650.8,766.2 1607.9,804.9Z"/><path d="M1558.8,882.4 Q1619.5,843.6 1677.5,800.9 Q1616.9,839.7 1558.8,882.4Z"/><path d="M1590.5,853.1 Q1659.0,806.8 1723.5,755.3 Q1655.0,801.5 1590.5,853.1Z"/><path d="M1753.0,854.8 Q1784.8,834.1 1814.0,809.7 Q1782.2,830.5 1753.0,854.8Z"/><path d="M1622.4,814.5 Q1659.7,794.4 1693.4,768.9 Q1656.2,789.0 1622.4,814.5Z"/><path d="M1580.4,828.9 Q1621.9,804.2 1660.2,774.6 Q1618.7,799.3 1580.4,828.9Z"/><path d="M1742.0,848.7 Q1784.3,818.3 1822.5,782.9 Q1780.3,813.3 1742.0,848.7Z"/><path d="M1698.0,795.4 Q1736.8,766.6 1773.4,735.2 Q1734.6,763.9 1698.0,795.4Z"/><path d="M1714.2,752.1 Q1751.4,723.9 1786.5,693.2 Q1749.4,721.4 1714.2,752.1Z"/><path d="M1683.7,828.4 Q1740.8,790.8 1793.5,747.3 Q1736.4,784.9 1683.7,828.4Z"/><path d="M1564.6,767.4 Q1617.8,737.7 1667.6,702.6 Q1614.4,732.4 1564.6,767.4Z"/><path d="M1725.6,745.5 Q1744.7,720.0 1760.7,692.4 Q1741.5,717.9 1725.6,745.5Z"/><path d="M1763.8,772.7 Q1781.5,746.6 1796.8,719.0 Q1779.1,745.2 1763.8,772.7Z"/><path d="M1687.2,736.4 Q1709.0,712.6 1728.2,686.7 Q1706.4,710.5 1687.2,736.4Z"/><path d="M1736.8,773.5 Q1752.0,750.0 1765.7,725.4 Q1750.4,749.0 1736.8,773.5Z"/><path d="M1702.0,764.5 Q1724.4,731.7 1744.8,697.6 Q1722.4,730.4 1702.0,764.5Z"/><path d="M1742.6,749.8 Q1762.7,726.0 1781.2,700.9 Q1761.1,724.8 1742.6,749.8Z"/></g>
<rect x="1791.2" y="709.9" width="177" height="132.7" fill="#A8306C" filter="url(#fLung1)"/>
<rect x="1066.2" y="844.8" width="177" height="132.7" fill="#D24E8C" filter="url(#fLiv)"/>
<g clip-path="url(#cS2)">
<rect x="1247.2" y="844.8" width="177" height="132.7" fill="#A4488C"/>
<ellipse cx="1305.6" cy="948.3" rx="38.9" ry="34.5" fill="url(#gBlob)" opacity="1.0"/>
<ellipse cx="1291.5" cy="863.4" rx="21.2" ry="18.6" fill="url(#gBlob)" opacity="0.8"/>
<ellipse cx="1422.4" cy="878.0" rx="8.8" ry="39.8" fill="url(#gBlob)" opacity="0.9"/>
<ellipse cx="1321.5" cy="900.5" rx="24.8" ry="21.2" fill="url(#gBlob)" opacity="0.6"/>
<ellipse cx="1371.1" cy="924.4" rx="35.4" ry="39.8" fill="url(#gBlob)" opacity="0.35"/>
</g>
<rect x="1428.4" y="844.8" width="177" height="132.7" fill="#E25084" filter="url(#fKid2)"/>
<rect x="1609.4" y="844.8" width="177" height="132.7" fill="#D43870" filter="url(#fHrt)"/>
<g clip-path="url(#cH2)" fill="#F8F4F6"><path d="M1600.7,956.3 Q1630.8,945.3 1657.4,927.4 Q1627.3,938.3 1600.7,956.3Z"/><path d="M1618.2,964.1 Q1661.1,943.2 1702.6,919.8 Q1659.8,940.8 1618.2,964.1Z"/><path d="M1639.1,962.2 Q1693.6,936.4 1744.2,903.6 Q1689.7,929.4 1639.1,962.2Z"/><path d="M1588.4,922.6 Q1641.2,899.9 1690.7,870.4 Q1637.8,893.1 1588.4,922.6Z"/><path d="M1639.1,948.7 Q1669.7,933.9 1697.0,913.6 Q1666.4,928.4 1639.1,948.7Z"/><path d="M1647.8,970.4 Q1693.0,945.0 1735.9,915.9 Q1690.7,941.3 1647.8,970.4Z"/><path d="M1613.8,970.2 Q1655.5,952.0 1693.4,926.7 Q1651.7,944.9 1613.8,970.2Z"/><path d="M1634.1,983.4 Q1663.2,970.7 1690.5,954.4 Q1661.4,967.1 1634.1,983.4Z"/><path d="M1650.9,945.9 Q1694.5,927.4 1735.6,903.7 Q1691.9,922.2 1650.9,945.9Z"/><path d="M1681.2,981.7 Q1728.6,964.0 1773.6,940.8 Q1726.2,958.5 1681.2,981.7Z"/><path d="M1616.5,971.7 Q1670.6,946.1 1721.0,913.8 Q1666.9,939.4 1616.5,971.7Z"/><path d="M1653.5,969.0 Q1709.7,943.5 1762.6,911.7 Q1706.4,937.2 1653.5,969.0Z"/><path d="M1701.3,950.2 Q1740.6,938.0 1776.1,917.0 Q1736.8,929.3 1701.3,950.2Z"/><path d="M1580.4,920.2 Q1634.4,895.3 1684.1,862.5 Q1630.0,887.4 1580.4,920.2Z"/><path d="M1588.2,978.0 Q1644.2,950.0 1698.2,918.3 Q1642.3,946.4 1588.2,978.0Z"/><path d="M1660.7,924.8 Q1698.2,906.7 1734.0,885.5 Q1696.5,903.6 1660.7,924.8Z"/><path d="M1605.3,913.3 Q1640.8,893.6 1674.5,870.9 Q1639.0,890.6 1605.3,913.3Z"/><path d="M1596.3,941.6 Q1631.3,926.9 1662.4,905.2 Q1627.5,919.9 1596.3,941.6Z"/><path d="M1704.5,931.4 Q1729.9,903.5 1747.7,870.3 Q1722.4,898.2 1704.5,931.4Z"/><path d="M1710.4,992.4 Q1746.5,956.6 1777.2,916.0 Q1741.1,951.8 1710.4,992.4Z"/><path d="M1736.9,928.7 Q1759.9,905.9 1779.0,879.7 Q1755.9,902.5 1736.9,928.7Z"/><path d="M1704.6,999.7 Q1741.9,960.0 1770.9,914.0 Q1733.7,953.7 1704.6,999.7Z"/><path d="M1585.9,861.6 Q1610.9,856.6 1635.6,850.0 Q1610.6,855.0 1585.9,861.6Z"/><path d="M1730.1,884.4 Q1772.7,873.6 1815.0,861.3 Q1772.3,872.1 1730.1,884.4Z"/><path d="M1718.9,863.7 Q1757.7,856.5 1796.2,847.7 Q1757.3,854.9 1718.9,863.7Z"/><path d="M1577.9,864.0 Q1620.2,852.8 1662.3,840.7 Q1620.0,851.8 1577.9,864.0Z"/><path d="M1675.6,875.9 Q1716.2,864.9 1756.2,852.1 Q1715.6,863.1 1675.6,875.9Z"/><path d="M1603.4,891.1 Q1633.4,881.7 1662.9,871.4 Q1633.0,880.7 1603.4,891.1Z"/></g>
<rect x="1791.2" y="844.8" width="177" height="132.7" fill="#B43C7A" filter="url(#fLung2)"/>
<rect x="1066.2" y="979.7" width="177" height="132.7" fill="#D5488A" filter="url(#fLiv)"/>
<g clip-path="url(#cS3)">
<rect x="1247.2" y="979.7" width="177" height="132.7" fill="#B04E8E"/>
<ellipse cx="1371.1" cy="1016.9" rx="30.1" ry="34.5" fill="url(#gBlob)" opacity="1.0"/>
<ellipse cx="1257.8" cy="1056.7" rx="17.7" ry="26.5" fill="url(#gBlob)" opacity="0.8"/>
<ellipse cx="1380.0" cy="1111.1" rx="35.4" ry="13.3" fill="url(#gBlob)" opacity="0.9"/>
<ellipse cx="1309.2" cy="1052.7" rx="35.4" ry="33.2" fill="url(#gBlob)" opacity="0.3"/>
</g>
<rect x="1428.4" y="979.7" width="177" height="132.7" fill="#E25084" filter="url(#fKid3)"/>
<rect x="1609.4" y="979.7" width="177" height="132.7" fill="#C8305E" filter="url(#fHrt)"/>
<g clip-path="url(#cH3)" fill="#F8F4F6"><path d="M1767.7,1090.1 Q1785.9,1048.6 1797.7,1004.9 Q1779.5,1046.4 1767.7,1090.1Z"/><path d="M1612.7,1086.8 Q1625.2,1065.9 1633.7,1043.1 Q1621.2,1064.0 1612.7,1086.8Z"/><path d="M1754.1,1027.9 Q1765.3,1007.9 1773.4,986.4 Q1762.2,1006.4 1754.1,1027.9Z"/><path d="M1604.8,1041.9 Q1615.1,1020.4 1622.8,997.9 Q1612.5,1019.3 1604.8,1041.9Z"/><path d="M1625.3,1084.4 Q1645.0,1043.1 1658.4,999.3 Q1638.8,1040.7 1625.3,1084.4Z"/><path d="M1731.2,1107.1 Q1750.2,1062.0 1765.9,1015.6 Q1746.9,1060.7 1731.2,1107.1Z"/><path d="M1698.1,1145.1 Q1714.5,1106.8 1726.2,1066.7 Q1709.7,1105.1 1698.1,1145.1Z"/><path d="M1635.6,1067.9 Q1662.7,1020.4 1682.8,969.6 Q1655.7,1017.1 1635.6,1067.9Z"/><path d="M1693.2,1106.3 Q1705.4,1078.4 1712.7,1048.8 Q1700.6,1076.8 1693.2,1106.3Z"/><path d="M1676.4,1045.5 Q1687.5,1024.4 1691.1,1000.8 Q1680.0,1021.9 1676.4,1045.5Z"/><path d="M1742.9,1097.2 Q1755.6,1077.7 1763.6,1055.8 Q1751.0,1075.4 1742.9,1097.2Z"/><path d="M1767.9,1104.4 Q1787.1,1061.4 1800.2,1016.1 Q1781.0,1059.1 1767.9,1104.4Z"/><path d="M1694.4,1095.7 Q1710.1,1065.6 1719.1,1032.8 Q1703.4,1062.9 1694.4,1095.7Z"/><path d="M1728.0,1033.4 Q1743.1,1001.1 1756.2,968.0 Q1741.0,1000.2 1728.0,1033.4Z"/><path d="M1750.6,1095.4 Q1766.7,1058.9 1777.2,1020.4 Q1761.0,1056.9 1750.6,1095.4Z"/><path d="M1661.9,1101.6 Q1679.8,1062.9 1693.6,1022.5 Q1675.7,1061.2 1661.9,1101.6Z"/><path d="M1650.4,1099.1 Q1669.8,1060.0 1685.5,1019.2 Q1666.1,1058.3 1650.4,1099.1Z"/><path d="M1736.0,1105.9 Q1761.5,1057.9 1783.3,1008.2 Q1757.9,1056.2 1736.0,1105.9Z"/><path d="M1622.6,1081.1 Q1642.6,1036.8 1660.6,991.7 Q1640.6,1035.9 1622.6,1081.1Z"/><path d="M1748.3,1146.8 Q1765.6,1106.4 1779.0,1064.6 Q1761.7,1105.0 1748.3,1146.8Z"/><path d="M1721.6,991.2 Q1742.0,985.7 1759.8,974.4 Q1739.4,979.9 1721.6,991.2Z"/><path d="M1657.1,1012.6 Q1684.1,1002.4 1708.2,986.6 Q1681.2,996.8 1657.1,1012.6Z"/><path d="M1725.4,1026.6 Q1752.9,1015.7 1779.1,1001.8 Q1751.6,1012.8 1725.4,1026.6Z"/><path d="M1685.1,1020.2 Q1713.3,1010.0 1738.9,994.3 Q1710.7,1004.6 1685.1,1020.2Z"/><path d="M1636.8,1035.2 Q1680.5,1018.1 1722.0,996.2 Q1678.2,1013.2 1636.8,1035.2Z"/><path d="M1752.8,1033.0 Q1771.6,1025.0 1788.2,1013.1 Q1769.4,1021.1 1752.8,1033.0Z"/><path d="M1672.4,1003.4 Q1704.8,993.4 1735.3,978.4 Q1702.8,988.4 1672.4,1003.4Z"/><path d="M1649.4,1001.0 Q1696.0,982.9 1740.3,959.5 Q1693.6,977.6 1649.4,1001.0Z"/></g>
<rect x="1791.2" y="979.7" width="177" height="132.7" fill="#BA4280" filter="url(#fLung3)"/>
<rect x="1066.2" y="1114.6" width="177" height="132.7" fill="#D2468A" filter="url(#fLiv)"/>
<g clip-path="url(#cS4)">
<rect x="1247.2" y="1114.6" width="177" height="132.7" fill="#A44890"/>
<ellipse cx="1394.1" cy="1183.6" rx="23.0" ry="26.5" fill="url(#gBlob)" opacity="1.0"/>
<ellipse cx="1300.3" cy="1154.4" rx="35.4" ry="26.5" fill="url(#gBlob)" opacity="0.35"/>
<ellipse cx="1344.5" cy="1134.5" rx="26.6" ry="15.9" fill="url(#gBlob)" opacity="0.3"/>
</g>
<rect x="1428.4" y="1114.6" width="177" height="132.7" fill="#E04E86" filter="url(#fKid4)"/>
<rect x="1609.4" y="1114.6" width="177" height="132.7" fill="#D8406E" filter="url(#fHrt)"/>
<g clip-path="url(#cH4)" fill="#F8F4F6"><path d="M1703.8,1246.4 Q1779.5,1234.6 1854.8,1221.0 Q1779.2,1232.8 1703.8,1246.4Z"/><path d="M1695.0,1229.9 Q1735.8,1227.6 1776.5,1223.7 Q1735.7,1226.0 1695.0,1229.9Z"/><path d="M1574.0,1215.3 Q1630.4,1212.4 1686.6,1206.1 Q1630.2,1209.0 1574.0,1215.3Z"/><path d="M1656.6,1189.3 Q1712.5,1184.3 1768.0,1176.0 Q1712.1,1181.0 1656.6,1189.3Z"/><path d="M1616.3,1203.3 Q1682.1,1191.6 1747.5,1178.0 Q1681.7,1189.7 1616.3,1203.3Z"/><path d="M1640.4,1157.9 Q1710.2,1153.8 1779.7,1145.7 Q1709.9,1149.8 1640.4,1157.9Z"/><path d="M1568.0,1190.4 Q1654.1,1186.3 1740.1,1179.9 Q1654.0,1184.0 1568.0,1190.4Z"/><path d="M1602.9,1234.2 Q1645.0,1232.2 1686.7,1226.6 Q1644.6,1228.6 1602.9,1234.2Z"/><path d="M1622.2,1224.6 Q1706.8,1210.7 1790.5,1192.0 Q1705.9,1206.0 1622.2,1224.6Z"/><path d="M1644.1,1156.7 Q1702.1,1146.1 1759.7,1134.0 Q1701.8,1144.6 1644.1,1156.7Z"/><path d="M1672.5,1154.4 Q1720.0,1150.6 1767.5,1145.8 Q1719.9,1149.6 1672.5,1154.4Z"/><path d="M1582.0,1157.2 Q1652.8,1150.7 1723.1,1140.4 Q1652.3,1147.0 1582.0,1157.2Z"/><path d="M1630.6,1204.3 Q1706.4,1199.0 1782.0,1191.5 Q1706.2,1196.8 1630.6,1204.3Z"/><path d="M1648.5,1243.8 Q1732.5,1234.3 1816.0,1220.7 Q1731.9,1230.2 1648.5,1243.8Z"/><path d="M1633.1,1224.1 Q1701.9,1219.6 1770.6,1214.0 Q1701.8,1218.5 1633.1,1224.1Z"/><path d="M1582.5,1200.5 Q1644.7,1193.2 1706.8,1184.6 Q1644.6,1191.9 1582.5,1200.5Z"/><path d="M1643.9,1236.6 Q1714.0,1228.5 1783.9,1218.4 Q1713.7,1226.4 1643.9,1236.6Z"/><path d="M1697.5,1217.7 Q1779.2,1209.2 1860.9,1199.8 Q1779.1,1208.2 1697.5,1217.7Z"/><path d="M1591.4,1170.0 Q1647.0,1159.2 1702.2,1146.9 Q1646.6,1157.6 1591.4,1170.0Z"/><path d="M1595.4,1176.3 Q1647.2,1167.6 1698.1,1154.9 Q1646.3,1163.6 1595.4,1176.3Z"/><path d="M1580.1,1155.7 Q1645.0,1147.9 1709.6,1138.2 Q1644.7,1146.0 1580.1,1155.7Z"/><path d="M1587.3,1167.0 Q1651.5,1162.6 1715.7,1157.0 Q1651.4,1161.4 1587.3,1167.0Z"/><path d="M1642.1,1192.6 Q1709.3,1185.4 1775.8,1173.7 Q1708.7,1180.8 1642.1,1192.6Z"/><path d="M1620.6,1171.3 Q1679.4,1166.1 1737.8,1157.0 Q1678.9,1162.2 1620.6,1171.3Z"/><path d="M1611.7,1241.0 Q1658.3,1237.7 1704.7,1232.1 Q1658.1,1235.4 1611.7,1241.0Z"/><path d="M1731.3,1196.0 Q1771.6,1191.4 1811.5,1183.8 Q1771.1,1188.3 1731.3,1196.0Z"/><path d="M1532.0,1194.1 Q1614.7,1178.7 1697.2,1162.2 Q1614.5,1177.6 1532.0,1194.1Z"/><path d="M1583.9,1232.0 Q1639.2,1227.6 1694.0,1219.7 Q1638.8,1224.0 1583.9,1232.0Z"/><path d="M1585.6,1143.9 Q1611.4,1133.2 1636.2,1120.2 Q1610.3,1130.9 1585.6,1143.9Z"/><path d="M1615.1,1168.8 Q1655.3,1147.4 1695.0,1125.1 Q1654.8,1146.4 1615.1,1168.8Z"/><path d="M1615.7,1139.8 Q1649.8,1127.9 1683.1,1114.3 Q1649.1,1126.2 1615.7,1139.8Z"/><path d="M1655.7,1169.6 Q1692.9,1153.5 1729.4,1136.2 Q1692.3,1152.2 1655.7,1169.6Z"/><path d="M1603.7,1150.7 Q1629.9,1139.1 1654.7,1125.0 Q1628.6,1136.6 1603.7,1150.7Z"/><path d="M1692.2,1134.7 Q1720.5,1124.1 1748.2,1112.0 Q1719.9,1122.7 1692.2,1134.7Z"/><path d="M1616.4,1240.6 Q1632.3,1241.3 1646.4,1234.0 Q1630.5,1233.2 1616.4,1240.6Z"/></g>
<rect x="1791.2" y="1114.6" width="177" height="132.7" fill="#AC3672" filter="url(#fLung4)"/>
<g clip-path="url(#cL4)">
<ellipse cx="1796.5" cy="1187.6" rx="10.6" ry="66.3" fill="#EEECF1" opacity="0.95" filter="url(#fBlur)"/>
<ellipse cx="1816.0" cy="1218.1" rx="10.6" ry="23.9" fill="#EEECF1" opacity="0.9" filter="url(#fBlur)"/>
</g>
<rect x="1066.2" y="1249.5" width="177" height="132.7" fill="#D84C8E" filter="url(#fLiv)"/>
<g clip-path="url(#cS5)">
<rect x="1247.2" y="1249.5" width="177" height="132.7" fill="#A04690"/>
<ellipse cx="1364.0" cy="1318.5" rx="21.2" ry="22.6" fill="url(#gBlob)" opacity="1.0"/>
<ellipse cx="1309.2" cy="1309.2" rx="24.8" ry="26.5" fill="url(#gBlob)" opacity="0.55"/>
<ellipse cx="1282.6" cy="1276.0" rx="26.6" ry="19.9" fill="url(#gBlob)" opacity="0.35"/>
</g>
<rect x="1428.4" y="1249.5" width="177" height="132.7" fill="#E24E84" filter="url(#fKid5)"/>
<rect x="1609.4" y="1249.5" width="177" height="132.7" fill="#CC3C6A" filter="url(#fHrt)"/>
<g clip-path="url(#cH5)" fill="#F8F4F6"><path d="M1704.5,1361.0 Q1769.2,1332.8 1831.6,1299.7 Q1766.9,1328.0 1704.5,1361.0Z"/><path d="M1712.2,1344.9 Q1752.0,1330.5 1790.9,1313.6 Q1751.0,1328.0 1712.2,1344.9Z"/><path d="M1612.0,1376.3 Q1658.6,1356.0 1704.3,1333.9 Q1657.7,1354.2 1612.0,1376.3Z"/><path d="M1627.3,1372.5 Q1695.3,1341.6 1760.9,1305.9 Q1692.9,1336.9 1627.3,1372.5Z"/><path d="M1713.0,1382.8 Q1785.5,1353.5 1856.1,1319.8 Q1783.6,1349.1 1713.0,1382.8Z"/><path d="M1602.8,1413.5 Q1674.6,1378.3 1744.6,1339.6 Q1672.8,1374.8 1602.8,1413.5Z"/><path d="M1689.5,1388.6 Q1760.7,1366.1 1830.0,1338.4 Q1758.9,1360.9 1689.5,1388.6Z"/><path d="M1691.9,1355.5 Q1747.3,1335.4 1801.5,1312.1 Q1746.1,1332.2 1691.9,1355.5Z"/><path d="M1675.4,1388.0 Q1730.8,1370.1 1784.9,1348.7 Q1729.5,1366.6 1675.4,1388.0Z"/><path d="M1694.7,1404.5 Q1755.4,1377.5 1815.4,1348.9 Q1754.7,1375.9 1694.7,1404.5Z"/><path d="M1642.5,1340.2 Q1680.0,1324.3 1716.8,1306.8 Q1679.3,1322.7 1642.5,1340.2Z"/><path d="M1684.7,1409.1 Q1754.6,1373.3 1822.8,1334.2 Q1752.8,1370.0 1684.7,1409.1Z"/><path d="M1596.0,1334.8 Q1665.2,1308.3 1733.4,1279.5 Q1664.2,1305.9 1596.0,1334.8Z"/><path d="M1639.0,1383.4 Q1704.8,1350.9 1768.6,1314.8 Q1702.9,1347.3 1639.0,1383.4Z"/><path d="M1660.7,1366.0 Q1732.0,1332.0 1802.2,1295.8 Q1731.0,1329.8 1660.7,1366.0Z"/><path d="M1738.4,1348.9 Q1775.5,1337.7 1811.1,1322.2 Q1773.9,1333.3 1738.4,1348.9Z"/><path d="M1643.7,1348.7 Q1710.6,1317.1 1776.3,1283.1 Q1709.4,1314.7 1643.7,1348.7Z"/><path d="M1601.3,1392.2 Q1642.9,1373.5 1683.7,1353.3 Q1642.1,1372.0 1601.3,1392.2Z"/><path d="M1701.3,1401.5 Q1742.2,1383.7 1781.3,1362.4 Q1740.4,1380.2 1701.3,1401.5Z"/><path d="M1705.4,1367.8 Q1766.6,1343.6 1825.8,1315.0 Q1764.6,1339.1 1705.4,1367.8Z"/></g>
<rect x="1791.2" y="1249.5" width="177" height="132.7" fill="#B43C7A" filter="url(#fLung5)"/>
<rect x="1066.2" y="1384.4" width="177" height="132.7" fill="#D6549A" filter="url(#fLiv)"/>
<g clip-path="url(#cS6)">
<rect x="1247.2" y="1384.4" width="177" height="132.7" fill="#9E4892"/>
<ellipse cx="1392.3" cy="1466.7" rx="42.5" ry="55.7" fill="url(#gBlob)" opacity="0.95"/>
<ellipse cx="1300.3" cy="1424.2" rx="35.4" ry="26.5" fill="url(#gBlob)" opacity="0.3"/>
</g>
<rect x="1428.4" y="1384.4" width="177" height="132.7" fill="#E04E88" filter="url(#fKid6)"/>
<rect x="1609.4" y="1384.4" width="177" height="132.7" fill="#D8406A" filter="url(#fHrt)"/>
<g clip-path="url(#cH6)" fill="#F8F4F6"><path d="M1720.4,1486.9 Q1729.7,1511.8 1749.9,1528.9 Q1740.7,1504.1 1720.4,1486.9Z"/><path d="M1587.7,1451.5 Q1617.0,1500.7 1651.1,1546.7 Q1621.9,1497.5 1587.7,1451.5Z"/><path d="M1643.9,1424.6 Q1669.4,1469.3 1703.7,1507.6 Q1678.2,1462.9 1643.9,1424.6Z"/><path d="M1639.8,1445.2 Q1656.0,1471.3 1677.4,1493.2 Q1661.3,1467.1 1639.8,1445.2Z"/><path d="M1586.6,1411.6 Q1620.3,1458.4 1658.5,1501.6 Q1624.9,1454.8 1586.6,1411.6Z"/><path d="M1599.1,1469.2 Q1613.7,1494.4 1633.0,1516.3 Q1618.4,1491.0 1599.1,1469.2Z"/><path d="M1656.8,1437.1 Q1684.2,1478.4 1718.5,1514.1 Q1691.2,1472.8 1656.8,1437.1Z"/><path d="M1615.4,1411.9 Q1634.1,1439.5 1657.7,1462.9 Q1639.0,1435.4 1615.4,1411.9Z"/><path d="M1747.3,1421.3 Q1764.7,1446.3 1787.2,1466.7 Q1769.8,1441.8 1747.3,1421.3Z"/><path d="M1722.3,1468.7 Q1750.8,1516.9 1790.0,1556.9 Q1761.5,1508.6 1722.3,1468.7Z"/><path d="M1658.3,1419.6 Q1687.0,1461.9 1720.9,1500.3 Q1692.1,1458.0 1658.3,1419.6Z"/><path d="M1638.8,1441.3 Q1674.4,1489.8 1717.9,1531.3 Q1682.3,1482.8 1638.8,1441.3Z"/><path d="M1683.5,1457.4 Q1712.7,1493.7 1745.4,1526.9 Q1716.2,1490.6 1683.5,1457.4Z"/><path d="M1677.5,1455.3 Q1700.3,1494.3 1732.1,1526.4 Q1709.3,1487.4 1677.5,1455.3Z"/><path d="M1716.5,1400.7 Q1750.8,1448.1 1793.8,1487.9 Q1759.4,1440.5 1716.5,1400.7Z"/><path d="M1611.6,1409.5 Q1645.5,1455.0 1687.1,1493.4 Q1653.2,1448.0 1611.6,1409.5Z"/><path d="M1700.0,1408.2 Q1737.0,1455.0 1779.1,1497.2 Q1742.1,1450.5 1700.0,1408.2Z"/><path d="M1640.0,1435.6 Q1664.5,1470.2 1696.0,1498.6 Q1671.5,1464.0 1640.0,1435.6Z"/><path d="M1616.4,1378.7 Q1654.4,1430.9 1699.2,1477.5 Q1661.2,1425.2 1616.4,1378.7Z"/><path d="M1624.1,1460.1 Q1636.9,1482.0 1654.1,1500.6 Q1641.4,1478.7 1624.1,1460.1Z"/><path d="M1668.5,1442.0 Q1699.9,1492.0 1737.1,1537.9 Q1705.8,1487.8 1668.5,1442.0Z"/><path d="M1720.7,1466.7 Q1747.6,1504.9 1783.1,1535.4 Q1756.2,1497.1 1720.7,1466.7Z"/><path d="M1653.7,1393.7 Q1677.3,1414.4 1705.1,1428.7 Q1681.6,1408.0 1653.7,1393.7Z"/><path d="M1646.7,1386.3 Q1664.8,1402.6 1687.1,1412.2 Q1669.1,1395.9 1646.7,1386.3Z"/><path d="M1708.0,1392.0 Q1727.4,1412.3 1751.5,1426.6 Q1732.1,1406.3 1708.0,1392.0Z"/><path d="M1662.8,1363.8 Q1690.1,1389.3 1721.0,1410.3 Q1693.7,1384.8 1662.8,1363.8Z"/><path d="M1675.8,1380.5 Q1703.2,1405.2 1733.6,1426.2 Q1706.1,1401.5 1675.8,1380.5Z"/></g>
<rect x="1791.2" y="1384.4" width="177" height="132.7" fill="#C24684" filter="url(#fLung6)"/>
<g clip-path="url(#cL6)">
<ellipse cx="1936.3" cy="1450.8" rx="17.7" ry="13.3" fill="#EEECF1" opacity="0.9" filter="url(#fBlur)"/>
<ellipse cx="1954.0" cy="1413.6" rx="10.6" ry="10.6" fill="#EEECF1" opacity="0.9" filter="url(#fBlur)"/>
<ellipse cx="1915.1" cy="1490.6" rx="12.4" ry="10.6" fill="#EEECF1" opacity="0.85" filter="url(#fBlur)"/>
</g>
<rect x="1247.2" y="575.0" width="177" height="132.7" fill="none" filter="url(#fSplOv)"/>
<rect x="1247.2" y="709.9" width="177" height="132.7" fill="none" filter="url(#fSplOv)"/>
<rect x="1247.2" y="844.8" width="177" height="132.7" fill="none" filter="url(#fSplOv)"/>
<rect x="1247.2" y="979.7" width="177" height="132.7" fill="none" filter="url(#fSplOv)"/>
<rect x="1247.2" y="1114.6" width="177" height="132.7" fill="none" filter="url(#fSplOv)"/>
<rect x="1247.2" y="1249.5" width="177" height="132.7" fill="none" filter="url(#fSplOv)"/>
<rect x="1247.2" y="1384.4" width="177" height="132.7" fill="none" filter="url(#fSplOv)"/>
<text x="1854" y="1489.2" font-size="32.55" textLength="106.78" lengthAdjust="spacingAndGlyphs">500 µm</text>
<line x1="1878.3" y1="1505.4" x2="1960.9" y2="1505.4" stroke="#000" stroke-width="4.6"/>
<g shape-rendering="crispEdges">
<rect x="165" y="1660.4" width="59.3" height="78.7" fill="#F9A0A0"/>
<rect x="223.7" y="1660.4" width="48.7" height="78.7" fill="#F98888"/>
<rect x="271.8" y="1660.4" width="51.2" height="78.7" fill="#FDDEDE"/>
<rect x="322.4" y="1660.4" width="50.5" height="78.7" fill="#FCBBBB"/>
<rect x="372.3" y="1660.4" width="50.7" height="78.7" fill="#FDEDED"/>
<rect x="422.4" y="1660.4" width="50.7" height="78.7" fill="#FBB8B8"/>
<rect x="472.5" y="1660.4" width="51" height="78.7" fill="#FAAAAA"/>
<rect x="522.9" y="1660.4" width="50.7" height="78.7" fill="#F98080"/>
<rect x="573" y="1660.4" width="51" height="78.7" fill="#FCD2D2"/>
<rect x="623.4" y="1660.4" width="50.4" height="78.7" fill="#F55A5A"/>
<rect x="673.2" y="1660.4" width="50.4" height="78.7" fill="#F89C9C"/>
<rect x="723" y="1660.4" width="51.3" height="78.7" fill="#FBC0C0"/>
<rect x="773.7" y="1660.4" width="50.6" height="78.7" fill="#F98282"/>
<rect x="823.7" y="1660.4" width="51" height="78.7" fill="#FBBBBB"/>
<rect x="874.1" y="1660.4" width="50.1" height="78.7" fill="#F99494"/>
<rect x="923.6" y="1660.4" width="49.4" height="78.7" fill="#FAA5A5"/>
<rect x="972.4" y="1660.4" width="50.7" height="78.7" fill="#F97474"/>
<rect x="1022.5" y="1660.4" width="50.7" height="78.7" fill="#FAAEAE"/>
<rect x="1072.6" y="1660.4" width="51" height="78.7" fill="#F99A9A"/>
<rect x="1123" y="1660.4" width="50.6" height="78.7" fill="#F99E9E"/>
<rect x="1173" y="1660.4" width="49.6" height="78.7" fill="#F99393"/>
<rect x="165" y="1738.5" width="59.3" height="80.4" fill="#C8C8FF"/>
<rect x="223.7" y="1738.5" width="48.7" height="80.4" fill="#9494FF"/>
<rect x="271.8" y="1738.5" width="51.2" height="80.4" fill="#9898FF"/>
<rect x="322.4" y="1738.5" width="50.5" height="80.4" fill="#9494FF"/>
<rect x="372.3" y="1738.5" width="50.7" height="80.4" fill="#F8F8FF"/>
<rect x="422.4" y="1738.5" width="50.7" height="80.4" fill="#9494FF"/>
<rect x="472.5" y="1738.5" width="51" height="80.4" fill="#C0C0FF"/>
<rect x="522.9" y="1738.5" width="50.7" height="80.4" fill="#A0A0FF"/>
<rect x="573" y="1738.5" width="51" height="80.4" fill="#8C8CFF"/>
<rect x="623.4" y="1738.5" width="50.4" height="80.4" fill="#B0B0FF"/>
<rect x="673.2" y="1738.5" width="50.4" height="80.4" fill="#B3B3FF"/>
<rect x="723" y="1738.5" width="51.3" height="80.4" fill="#C3C3FF"/>
<rect x="773.7" y="1738.5" width="50.6" height="80.4" fill="#C5C5FF"/>
<rect x="823.7" y="1738.5" width="51" height="80.4" fill="#C3C3FF"/>
<rect x="874.1" y="1738.5" width="50.1" height="80.4" fill="#9898FF"/>
<rect x="923.6" y="1738.5" width="49.4" height="80.4" fill="#AAAAFF"/>
<rect x="972.4" y="1738.5" width="50.7" height="80.4" fill="#C5C5FF"/>
<rect x="1022.5" y="1738.5" width="50.7" height="80.4" fill="#B3B3FF"/>
<rect x="1072.6" y="1738.5" width="51" height="80.4" fill="#C0C0FF"/>
<rect x="1123" y="1738.5" width="50.6" height="80.4" fill="#8E8EFF"/>
<rect x="1173" y="1738.5" width="49.6" height="80.4" fill="#A3A3FF"/>
<rect x="165" y="1818.3" width="59.3" height="80.1" fill="#5050FF"/>
<rect x="223.7" y="1818.3" width="48.7" height="80.1" fill="#6868FF"/>
<rect x="271.8" y="1818.3" width="51.2" height="80.1" fill="#5050FF"/>
<rect x="322.4" y="1818.3" width="50.5" height="80.1" fill="#8484FF"/>
<rect x="372.3" y="1818.3" width="50.7" height="80.1" fill="#5555FF"/>
<rect x="422.4" y="1818.3" width="50.7" height="80.1" fill="#5050FF"/>
<rect x="472.5" y="1818.3" width="51" height="80.1" fill="#7777FF"/>
<rect x="522.9" y="1818.3" width="50.7" height="80.1" fill="#5A5AFF"/>
<rect x="573" y="1818.3" width="51" height="80.1" fill="#6666FF"/>
<rect x="623.4" y="1818.3" width="50.4" height="80.1" fill="#6565FF"/>
<rect x="673.2" y="1818.3" width="50.4" height="80.1" fill="#5858FF"/>
<rect x="723" y="1818.3" width="51.3" height="80.1" fill="#7070FF"/>
<rect x="773.7" y="1818.3" width="50.6" height="80.1" fill="#5656FF"/>
<rect x="823.7" y="1818.3" width="51" height="80.1" fill="#7777FF"/>
<rect x="874.1" y="1818.3" width="50.1" height="80.1" fill="#5555FF"/>
<rect x="923.6" y="1818.3" width="49.4" height="80.1" fill="#5050FF"/>
<rect x="972.4" y="1818.3" width="50.7" height="80.1" fill="#5555FF"/>
<rect x="1022.5" y="1818.3" width="50.7" height="80.1" fill="#4A4AFF"/>
<rect x="1072.6" y="1818.3" width="51" height="80.1" fill="#5A5AFF"/>
<rect x="1123" y="1818.3" width="50.6" height="80.1" fill="#6C6CFF"/>
<rect x="1173" y="1818.3" width="49.6" height="80.1" fill="#5858FF"/>
<rect x="165" y="1897.8" width="59.3" height="86.8" fill="#8585FF"/>
<rect x="223.7" y="1897.8" width="48.7" height="86.8" fill="#8C8CFF"/>
<rect x="271.8" y="1897.8" width="51.2" height="86.8" fill="#BABAFF"/>
<rect x="322.4" y="1897.8" width="50.5" height="86.8" fill="#AAAAFF"/>
<rect x="372.3" y="1897.8" width="50.7" height="86.8" fill="#A5A5FF"/>
<rect x="422.4" y="1897.8" width="50.7" height="86.8" fill="#AAAAFF"/>
<rect x="472.5" y="1897.8" width="51" height="86.8" fill="#8888FF"/>
<rect x="522.9" y="1897.8" width="50.7" height="86.8" fill="#8686FF"/>
<rect x="573" y="1897.8" width="51" height="86.8" fill="#9A9AFF"/>
<rect x="623.4" y="1897.8" width="50.4" height="86.8" fill="#A0A0FF"/>
<rect x="673.2" y="1897.8" width="50.4" height="86.8" fill="#9C9CFF"/>
<rect x="723" y="1897.8" width="51.3" height="86.8" fill="#9A9AFF"/>
<rect x="773.7" y="1897.8" width="50.6" height="86.8" fill="#9494FF"/>
<rect x="823.7" y="1897.8" width="51" height="86.8" fill="#9494FF"/>
<rect x="874.1" y="1897.8" width="50.1" height="86.8" fill="#8E8EFF"/>
<rect x="923.6" y="1897.8" width="49.4" height="86.8" fill="#9898FF"/>
<rect x="972.4" y="1897.8" width="50.7" height="86.8" fill="#9A9AFF"/>
<rect x="1022.5" y="1897.8" width="50.7" height="86.8" fill="#A0A0FF"/>
<rect x="1072.6" y="1897.8" width="51" height="86.8" fill="#9090FF"/>
<rect x="1123" y="1897.8" width="50.6" height="86.8" fill="#8A8AFF"/>
<rect x="1173" y="1897.8" width="49.6" height="86.8" fill="#8080FF"/>
</g>
<rect x="167.3" y="1664.7" width="1051.7" height="317.6" fill="none" stroke="#000" stroke-width="5.4" />
<line x1="178" y1="1642" x2="310.7" y2="1642" stroke="#000" stroke-width="4.6"/>
<text x="242.8" y="1622.7" font-size="31.72" text-anchor="middle" textLength="108.42" lengthAdjust="spacingAndGlyphs">Control</text>
<line x1="328.1" y1="1642" x2="460.8" y2="1642" stroke="#000" stroke-width="4.6"/>
<text x="391.9" y="1622.7" font-size="31.72" text-anchor="middle" textLength="44.07" lengthAdjust="spacingAndGlyphs">6 h</text>
<line x1="478.2" y1="1642" x2="610.9" y2="1642" stroke="#000" stroke-width="4.6"/>
<text x="541" y="1622.7" font-size="31.72" text-anchor="middle" textLength="61.03" lengthAdjust="spacingAndGlyphs">24 h</text>
<line x1="628.3" y1="1642" x2="761" y2="1642" stroke="#000" stroke-width="4.6"/>
<text x="690" y="1622.7" font-size="31.72" text-anchor="middle" textLength="61.03" lengthAdjust="spacingAndGlyphs">48 h</text>
<line x1="778.4" y1="1642" x2="911.1" y2="1642" stroke="#000" stroke-width="4.6"/>
<text x="839.1" y="1622.7" font-size="31.72" text-anchor="middle" textLength="61.03" lengthAdjust="spacingAndGlyphs">72 h</text>
<line x1="928.5" y1="1642" x2="1061.2" y2="1642" stroke="#000" stroke-width="4.6"/>
<text x="988.1" y="1622.7" font-size="31.72" text-anchor="middle" textLength="47.46" lengthAdjust="spacingAndGlyphs">7 D</text>
<line x1="1078.6" y1="1642" x2="1211.3" y2="1642" stroke="#000" stroke-width="4.6"/>
<text x="1137.2" y="1622.7" font-size="31.72" text-anchor="middle" textLength="64.43" lengthAdjust="spacingAndGlyphs">15 D</text>
<text x="78" y="1696.1" font-size="31.72" text-anchor="middle" textLength="57.02" lengthAdjust="spacingAndGlyphs">ALT</text>
<text x="78" y="1733.2" font-size="31.72" text-anchor="middle" textLength="111.84" lengthAdjust="spacingAndGlyphs">(10 U/L)</text>
<text x="78" y="1777" font-size="31.72" text-anchor="middle" textLength="61.00" lengthAdjust="spacingAndGlyphs">AST</text>
<text x="78" y="1814.8" font-size="31.72" text-anchor="middle" textLength="128.81" lengthAdjust="spacingAndGlyphs">(100 U/L)</text>
<text x="78" y="1858.2" font-size="31.72" text-anchor="middle" textLength="61.00" lengthAdjust="spacingAndGlyphs">ALP</text>
<text x="78" y="1896.3" font-size="31.72" text-anchor="middle" textLength="128.81" lengthAdjust="spacingAndGlyphs">(100 U/L)</text>
<text x="78" y="1939" font-size="31.72" text-anchor="middle" textLength="67.82" lengthAdjust="spacingAndGlyphs">Urea</text>
<text x="78" y="1976" font-size="31.72" text-anchor="middle" textLength="154.20" lengthAdjust="spacingAndGlyphs">(10 mg/dL)</text>
<defs><linearGradient id="cb2" x1="0" y1="0" x2="0" y2="1"><stop offset="0" stop-color="#FF4040"/><stop offset="0.5" stop-color="#FFFFFF"/><stop offset="1" stop-color="#0000FF"/></linearGradient></defs>
<rect x="1252.7" y="1683.9" width="35" height="282.8" fill="url(#cb2)" stroke="#000" stroke-width="2.2"/>
<line x1="1240" y1="1683.9" x2="1299.8" y2="1683.9" stroke="#000" stroke-width="1.6"/>
<text x="1314" y="1699.7" font-size="31.72" textLength="16.96" lengthAdjust="spacingAndGlyphs">6</text>
<line x1="1240" y1="1778.2" x2="1299.8" y2="1778.2" stroke="#000" stroke-width="1.6"/>
<text x="1314" y="1794" font-size="31.72" textLength="16.96" lengthAdjust="spacingAndGlyphs">4</text>
<line x1="1240" y1="1872.4" x2="1299.8" y2="1872.4" stroke="#000" stroke-width="1.6"/>
<text x="1314" y="1888.2" font-size="31.72" textLength="16.96" lengthAdjust="spacingAndGlyphs">2</text>
<line x1="1240" y1="1966.7" x2="1299.8" y2="1966.7" stroke="#000" stroke-width="1.6"/>
<text x="1314" y="1982.5" font-size="31.72" textLength="16.96" lengthAdjust="spacingAndGlyphs">0</text>
<path d="M1456,1601.9 H1963.5 M1456,1601.9 V1960.0 H1963.5" stroke="#000" stroke-width="2.3" fill="none"/>
<line x1="1967" y1="1600.6" x2="1967" y2="1960.3" stroke="#000" stroke-width="2.3"/>
<line x1="1447.1" y1="1960" x2="1456" y2="1960" stroke="#000" stroke-width="2.3"/>
<text x="1444.3" y="1968.2" font-size="29.12" text-anchor="end" textLength="38.92" lengthAdjust="spacingAndGlyphs">6.0</text>
<line x1="1447.1" y1="1870.5" x2="1456" y2="1870.5" stroke="#000" stroke-width="2.3"/>
<text x="1444.3" y="1878.8" font-size="29.12" text-anchor="end" textLength="38.92" lengthAdjust="spacingAndGlyphs">6.5</text>
<line x1="1447.1" y1="1781.1" x2="1456" y2="1781.1" stroke="#000" stroke-width="2.3"/>
<text x="1444.3" y="1789.3" font-size="29.12" text-anchor="end" textLength="38.92" lengthAdjust="spacingAndGlyphs">7.0</text>
<line x1="1447.1" y1="1691.7" x2="1456" y2="1691.7" stroke="#000" stroke-width="2.3"/>
<text x="1444.3" y="1699.9" font-size="29.12" text-anchor="end" textLength="38.92" lengthAdjust="spacingAndGlyphs">7.5</text>
<line x1="1447.1" y1="1602.2" x2="1456" y2="1602.2" stroke="#000" stroke-width="2.3"/>
<text x="1444.3" y="1610.4" font-size="29.12" text-anchor="end" textLength="38.92" lengthAdjust="spacingAndGlyphs">8.0</text>
<line x1="1451.1" y1="1915.3" x2="1456" y2="1915.3" stroke="#000" stroke-width="2.0"/>
<line x1="1451.1" y1="1825.8" x2="1456" y2="1825.8" stroke="#000" stroke-width="2.0"/>
<line x1="1451.1" y1="1736.4" x2="1456" y2="1736.4" stroke="#000" stroke-width="2.0"/>
<line x1="1451.1" y1="1646.9" x2="1456" y2="1646.9" stroke="#000" stroke-width="2.0"/>
<line x1="1460.5" y1="1960" x2="1460.5" y2="1966.5" stroke="#000" stroke-width="2.3"/>
<text x="1460.5" y="1992.2" font-size="29.12" text-anchor="middle" textLength="15.57" lengthAdjust="spacingAndGlyphs">0</text>
<line x1="1549.1" y1="1960" x2="1549.1" y2="1966.5" stroke="#000" stroke-width="2.3"/>
<text x="1549.1" y="1992.2" font-size="29.12" text-anchor="middle" textLength="31.14" lengthAdjust="spacingAndGlyphs">30</text>
<line x1="1637.7" y1="1960" x2="1637.7" y2="1966.5" stroke="#000" stroke-width="2.3"/>
<text x="1637.7" y="1992.2" font-size="29.12" text-anchor="middle" textLength="31.14" lengthAdjust="spacingAndGlyphs">60</text>
<line x1="1726.3" y1="1960" x2="1726.3" y2="1966.5" stroke="#000" stroke-width="2.3"/>
<text x="1726.3" y="1992.2" font-size="29.12" text-anchor="middle" textLength="31.14" lengthAdjust="spacingAndGlyphs">90</text>
<line x1="1814.9" y1="1960" x2="1814.9" y2="1966.5" stroke="#000" stroke-width="2.3"/>
<text x="1814.9" y="1992.2" font-size="29.12" text-anchor="middle" textLength="46.72" lengthAdjust="spacingAndGlyphs">120</text>
<line x1="1903.5" y1="1960" x2="1903.5" y2="1966.5" stroke="#000" stroke-width="2.3"/>
<text x="1903.5" y="1992.2" font-size="29.12" text-anchor="middle" textLength="46.72" lengthAdjust="spacingAndGlyphs">150</text>
<line x1="1504.8" y1="1960" x2="1504.8" y2="1964" stroke="#000" stroke-width="2.0"/>
<line x1="1593.4" y1="1960" x2="1593.4" y2="1964" stroke="#000" stroke-width="2.0"/>
<line x1="1682" y1="1960" x2="1682" y2="1964" stroke="#000" stroke-width="2.0"/>
<line x1="1770.6" y1="1960" x2="1770.6" y2="1964" stroke="#000" stroke-width="2.0"/>
<line x1="1859.2" y1="1960" x2="1859.2" y2="1964" stroke="#000" stroke-width="2.0"/>
<line x1="1947.7" y1="1960" x2="1947.7" y2="1964" stroke="#000" stroke-width="2.0"/>
<text x="1708.9" y="2037.6" font-size="29.12" text-anchor="middle" textLength="108.38" lengthAdjust="spacingAndGlyphs">Time (h)</text>
<text x="1392.9" y="1797.9" font-size="29.12" text-anchor="middle" transform="rotate(-90 1392.9 1797.9)" textLength="116.70" lengthAdjust="spacingAndGlyphs">pH value</text>
<path d="M1460.5,1712.9 L1472.3,1707.3 L1495.9,1705.4 L1531.4,1711.6 L1673.1,1710.4 L1956.6,1712" stroke="#000080" stroke-width="2.6" fill="none"/>
<line x1="1460.5" y1="1707.9" x2="1460.5" y2="1717.9" stroke="#000080" stroke-width="2.2"/>
<line x1="1456.3" y1="1707.9" x2="1464.7" y2="1707.9" stroke="#000080" stroke-width="2.2"/>
<line x1="1456.3" y1="1717.9" x2="1464.7" y2="1717.9" stroke="#000080" stroke-width="2.2"/>
<line x1="1472.3" y1="1703.3" x2="1472.3" y2="1711.3" stroke="#000080" stroke-width="2.2"/>
<line x1="1468.1" y1="1703.3" x2="1476.5" y2="1703.3" stroke="#000080" stroke-width="2.2"/>
<line x1="1468.1" y1="1711.3" x2="1476.5" y2="1711.3" stroke="#000080" stroke-width="2.2"/>
<line x1="1495.9" y1="1702.4" x2="1495.9" y2="1708.4" stroke="#000080" stroke-width="2.2"/>
<line x1="1491.7" y1="1702.4" x2="1500.1" y2="1702.4" stroke="#000080" stroke-width="2.2"/>
<line x1="1491.7" y1="1708.4" x2="1500.1" y2="1708.4" stroke="#000080" stroke-width="2.2"/>
<line x1="1531.4" y1="1709.6" x2="1531.4" y2="1713.6" stroke="#000080" stroke-width="2.2"/>
<line x1="1527.2" y1="1709.6" x2="1535.6" y2="1709.6" stroke="#000080" stroke-width="2.2"/>
<line x1="1527.2" y1="1713.6" x2="1535.6" y2="1713.6" stroke="#000080" stroke-width="2.2"/>
<line x1="1673.1" y1="1705.4" x2="1673.1" y2="1715.4" stroke="#000080" stroke-width="2.2"/>
<line x1="1668.9" y1="1705.4" x2="1677.3" y2="1705.4" stroke="#000080" stroke-width="2.2"/>
<line x1="1668.9" y1="1715.4" x2="1677.3" y2="1715.4" stroke="#000080" stroke-width="2.2"/>
<line x1="1956.6" y1="1706" x2="1956.6" y2="1718" stroke="#000080" stroke-width="2.2"/>
<line x1="1952.4" y1="1706" x2="1960.8" y2="1706" stroke="#000080" stroke-width="2.2"/>
<line x1="1952.4" y1="1718" x2="1960.8" y2="1718" stroke="#000080" stroke-width="2.2"/>
<text x="26" y="36.6" font-size="49.92" textLength="26.70" lengthAdjust="spacingAndGlyphs">a</text>
<text x="637.3" y="36.5" font-size="49.92" textLength="26.70" lengthAdjust="spacingAndGlyphs">c</text>
<text x="1258" y="36.4" font-size="49.92" textLength="29.32" lengthAdjust="spacingAndGlyphs">d</text>
<text x="24" y="567.5" font-size="49.92" textLength="29.32" lengthAdjust="spacingAndGlyphs">b</text>
<text x="955" y="567.5" font-size="49.92" textLength="26.70" lengthAdjust="spacingAndGlyphs">e</text>
<text x="28" y="1603.5" font-size="49.92" textLength="15.98" lengthAdjust="spacingAndGlyphs">f</text>
<text x="1321" y="1603" font-size="49.92" textLength="29.32" lengthAdjust="spacingAndGlyphs">g</text>
</svg>
</body></html>
